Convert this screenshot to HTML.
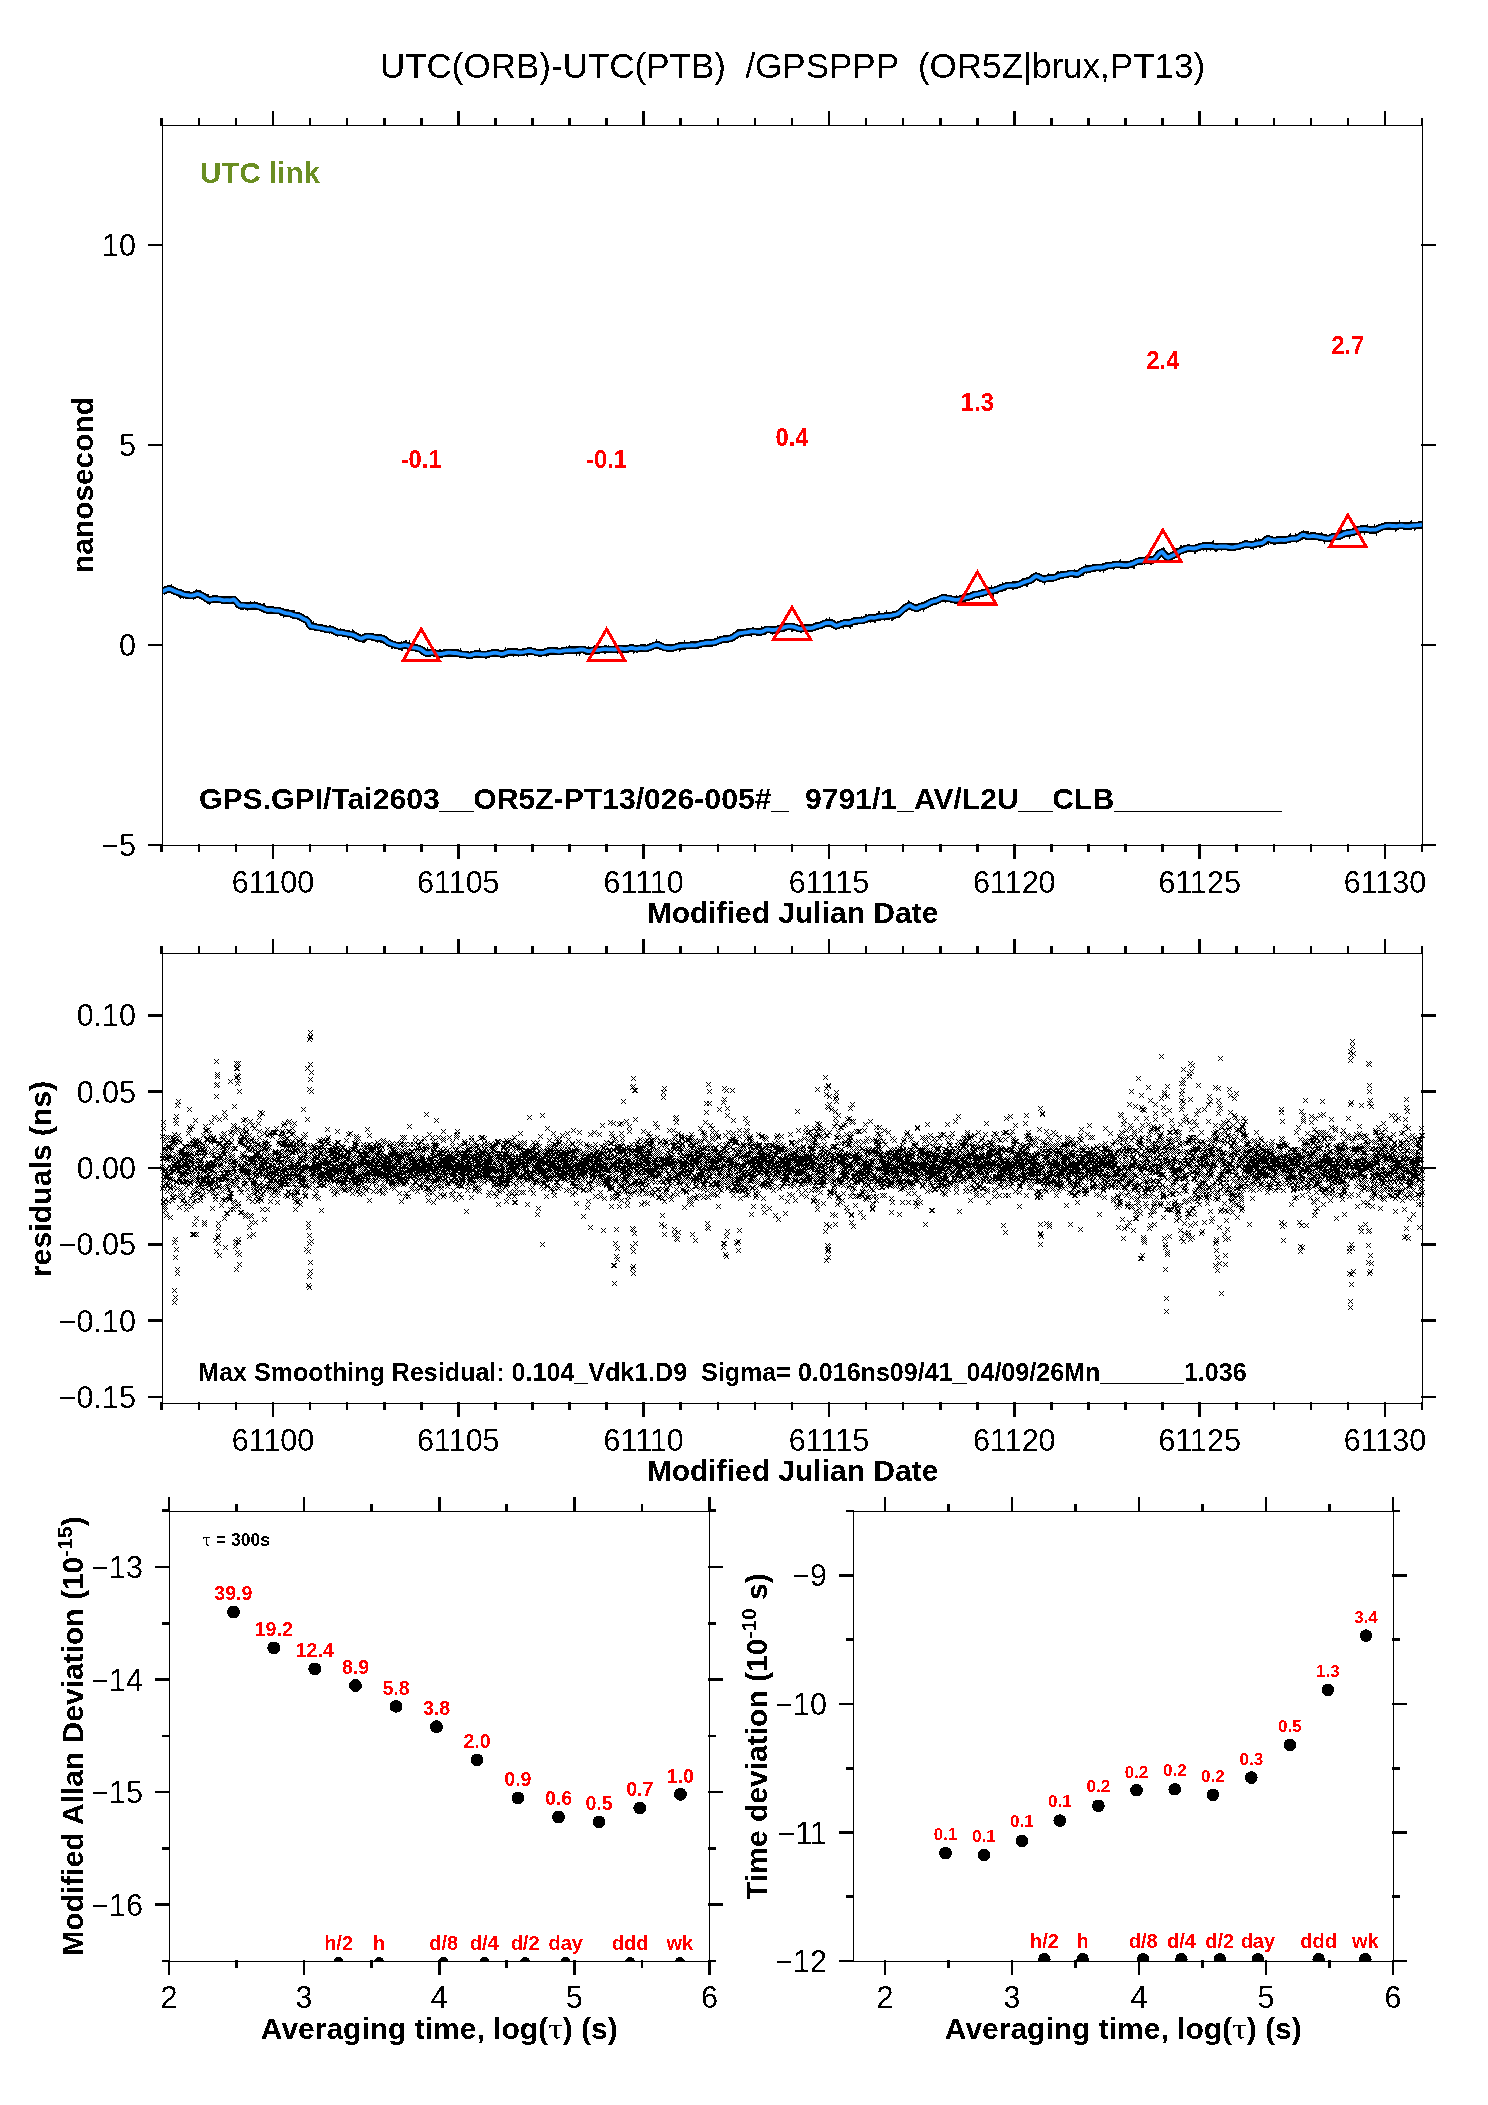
<!DOCTYPE html>
<html><head><meta charset="utf-8"><title>UTC(ORB)-UTC(PTB) GPSPPP</title>
<style>html,body{margin:0;padding:0;background:#fff;}svg{display:block}text{font-family:'Liberation Sans', Arial, Helvetica, sans-serif;}</style></head>
<body><svg width="1488" height="2105" viewBox="0 0 1488 2105">
<rect width="1488" height="2105" fill="#fff"/>
<filter id="crisp" x="0" y="0" width="1488" height="2105" filterUnits="userSpaceOnUse"><feComponentTransfer><feFuncA type="discrete" tableValues="0 1"/></feComponentTransfer></filter>
<g filter="url(#crisp)">
<text x="792.5" y="78.3" font-size="35" text-anchor="middle" style="white-space:pre">UTC(ORB)-UTC(PTB)  /GPSPPP  (OR5Z|brux,PT13)</text>
<clipPath id="c1"><rect x="162.5" y="125.5" width="1260" height="720"/></clipPath>
<g clip-path="url(#c1)"><polyline points="162,591.9 164,590.7 166,589.7 168,589.0 170,588.9 172,589.7 174,590.7 176,591.6 178,592.2 180,592.8 182,593.7 184,594.5 186,594.9 188,595.2 190,595.6 192,595.5 194,595.2 196,594.4 198,593.9 200,594.7 202,595.6 204,596.9 206,598.3 208,599.5 210,599.9 212,599.4 214,599.0 216,599.1 218,599.1 220,599.4 222,600.0 224,600.3 226,600.2 228,600.2 230,600.3 232,599.9 234,599.4 236,601.3 238,603.9 240,605.6 242,605.4 244,605.5 246,605.9 248,606.1 250,606.0 252,605.8 254,605.7 256,605.9 258,606.5 260,607.0 262,607.8 264,608.6 266,609.6 268,610.1 270,609.8 272,609.9 274,610.4 276,610.6 278,610.5 280,610.9 282,611.8 284,612.6 286,613.1 288,613.3 290,613.6 292,614.4 294,615.2 296,615.6 298,615.8 300,616.5 302,617.8 304,619.0 306,619.8 308,621.2 310,625.7 312,626.5 314,626.6 316,627.1 318,627.6 320,627.8 322,628.1 324,628.7 326,629.3 328,629.5 330,629.3 332,629.6 334,630.7 336,631.9 338,632.5 340,632.6 342,632.7 344,633.1 346,633.5 348,633.9 350,634.2 352,634.6 354,635.3 356,636.3 358,637.4 360,638.4 362,638.5 364,637.6 366,636.6 368,636.4 370,636.6 372,636.9 374,637.3 376,638.0 378,638.2 380,638.0 382,638.3 384,639.3 386,640.8 388,642.4 390,643.4 392,644.0 394,644.6 396,645.2 398,645.8 400,646.0 402,645.7 404,645.2 406,645.2 408,645.8 410,646.7 412,647.4 414,647.6 416,647.9 418,648.4 420,649.0 422,650.2 424,651.8 426,653.0 428,653.2 430,652.9 432,652.4 434,652.7 436,653.4 438,653.9 440,654.0 442,653.8 444,653.5 446,653.0 448,652.7 450,652.7 452,652.9 454,653.0 456,653.0 458,653.3 460,653.8 462,654.2 464,654.4 466,654.7 468,655.2 470,655.4 472,654.9 474,654.1 476,653.8 478,653.8 480,654.1 482,654.4 484,654.5 486,654.3 488,654.0 490,653.6 492,653.1 494,652.8 496,652.9 498,653.2 500,653.8 502,654.0 504,653.6 506,652.7 508,652.0 510,651.8 512,651.9 514,651.9 516,652.0 518,652.3 520,652.5 522,652.4 524,652.0 526,651.5 528,651.0 530,650.9 532,651.2 534,651.8 536,652.4 538,652.7 540,652.9 542,652.9 544,652.5 546,651.8 548,651.1 550,650.8 552,650.7 554,650.8 556,651.1 558,651.5 560,651.5 562,651.0 564,650.6 566,650.4 568,650.3 570,650.2 572,650.3 574,650.3 576,650.1 578,649.8 580,649.5 582,649.4 584,649.7 586,650.5 588,651.1 590,651.1 592,650.5 594,650.2 596,650.1 598,650.0 600,649.8 602,649.4 604,649.1 606,649.2 608,649.4 610,649.4 612,649.4 614,649.5 616,649.3 618,648.8 620,648.5 622,648.6 624,649.0 626,649.2 628,648.7 630,648.0 632,647.9 634,648.4 636,648.8 638,648.6 640,648.2 642,648.1 644,648.3 646,648.3 648,647.9 650,647.3 652,646.4 654,645.6 656,644.9 658,644.8 660,645.8 662,646.6 664,647.5 666,647.8 668,648.0 670,648.2 672,648.1 674,647.7 676,647.0 678,646.4 680,646.0 682,645.8 684,645.7 686,645.7 688,645.6 690,645.3 692,645.1 694,645.3 696,645.3 698,644.7 700,644.2 702,643.7 704,643.3 706,642.8 708,642.7 710,642.8 712,642.7 714,642.5 716,641.9 718,641.1 720,640.2 722,639.4 724,639.2 726,639.2 728,638.9 730,638.4 732,637.7 734,636.6 736,635.1 738,633.8 740,633.1 742,633.0 744,632.6 746,632.3 748,632.1 750,631.6 752,631.2 754,631.3 756,631.7 758,631.9 760,632.0 762,631.7 764,630.8 766,629.7 768,629.3 770,629.7 772,630.0 774,630.0 776,629.6 778,629.1 780,628.6 782,628.1 784,627.4 786,626.8 788,626.4 790,626.4 792,626.5 794,626.9 796,627.6 798,628.4 800,628.8 802,628.7 804,628.3 806,628.1 808,628.1 810,628.1 812,627.8 814,627.3 816,626.3 818,625.8 820,625.6 822,624.8 824,623.6 826,623.0 828,622.9 830,622.8 832,623.2 834,624.7 836,625.9 838,625.4 840,624.5 842,623.7 844,622.9 846,622.9 848,623.1 850,622.8 852,622.0 854,621.2 856,620.8 858,620.7 860,620.6 862,620.5 864,620.1 866,619.3 868,618.2 870,617.6 872,617.7 874,617.9 876,617.5 878,616.8 880,616.5 882,616.5 884,616.3 886,616.0 888,615.9 890,615.8 892,615.4 894,614.9 896,614.5 898,613.7 900,612.4 902,610.4 904,608.8 906,607.4 908,606.0 910,605.3 912,606.7 914,607.7 916,608.3 918,608.0 920,606.7 922,606.2 924,605.8 926,605.0 928,603.9 930,602.6 932,601.7 934,601.2 936,600.8 938,600.0 940,598.8 942,597.9 944,597.7 946,598.2 948,598.4 950,598.6 952,599.2 954,599.7 956,599.8 958,599.7 960,599.5 962,598.7 964,597.9 966,597.3 968,597.1 970,596.7 972,595.8 974,594.9 976,594.4 978,594.1 980,593.7 982,593.2 984,592.7 986,592.0 988,591.3 990,590.9 992,590.8 994,590.5 996,589.7 998,588.9 1000,588.3 1002,587.6 1004,586.7 1006,585.9 1008,585.6 1010,585.4 1012,585.3 1014,585.3 1016,585.1 1018,584.6 1020,584.0 1022,583.1 1024,582.2 1026,581.4 1028,581.0 1030,580.5 1032,579.0 1034,577.4 1036,576.0 1038,576.6 1040,577.7 1042,578.6 1044,579.4 1046,578.8 1048,578.1 1050,577.9 1052,578.0 1054,577.9 1056,577.1 1058,576.1 1060,575.3 1062,575.0 1064,574.8 1066,574.5 1068,574.0 1070,573.4 1072,573.1 1074,573.5 1076,574.0 1078,573.8 1080,572.5 1082,570.9 1084,569.8 1086,569.5 1088,569.3 1090,569.0 1092,568.4 1094,567.9 1096,567.6 1098,567.5 1100,567.5 1102,567.5 1104,567.1 1106,566.2 1108,565.7 1110,565.6 1112,565.3 1114,564.8 1116,564.6 1118,564.6 1120,564.7 1122,564.9 1124,565.1 1126,565.1 1128,564.9 1130,564.4 1132,563.8 1134,563.1 1136,562.0 1138,561.1 1140,560.8 1142,560.8 1144,560.5 1146,560.3 1148,560.2 1150,560.2 1152,560.1 1154,559.7 1156,557.6 1158,555.2 1160,553.0 1162,551.9 1164,554.1 1166,556.4 1168,557.8 1170,556.8 1172,555.8 1174,554.9 1176,553.7 1178,552.2 1180,551.1 1182,550.3 1184,549.4 1186,548.7 1188,548.2 1190,548.1 1192,548.4 1194,548.5 1196,548.2 1198,547.5 1200,546.8 1202,546.2 1204,546.0 1206,546.0 1208,546.0 1210,545.9 1212,546.0 1214,546.4 1216,546.8 1218,546.7 1220,546.5 1222,546.5 1224,546.5 1226,546.5 1228,546.8 1230,547.2 1232,547.3 1234,547.1 1236,546.6 1238,546.3 1240,545.9 1242,545.3 1244,544.7 1246,544.2 1248,544.3 1250,544.7 1252,544.8 1254,544.4 1256,543.8 1258,543.3 1260,543.2 1262,543.0 1264,541.8 1266,539.9 1268,538.9 1270,539.4 1272,540.2 1274,540.4 1276,540.3 1278,540.0 1280,539.9 1282,539.9 1284,540.0 1286,539.8 1288,539.3 1290,538.8 1292,538.5 1294,538.5 1296,538.6 1298,537.9 1300,536.3 1302,535.0 1304,534.8 1306,535.7 1308,536.4 1310,536.4 1312,536.0 1314,536.0 1316,536.3 1318,536.7 1320,537.0 1322,537.4 1324,537.9 1326,538.3 1328,538.4 1330,538.1 1332,537.2 1334,536.7 1336,536.5 1338,536.3 1340,535.8 1342,534.9 1344,533.9 1346,533.2 1348,532.9 1350,532.6 1352,532.2 1354,531.8 1356,531.0 1358,529.9 1360,529.1 1362,529.1 1364,529.0 1366,529.0 1368,529.4 1370,529.8 1372,529.7 1374,529.7 1376,529.6 1378,528.8 1380,527.7 1382,527.0 1384,526.5 1386,525.9 1388,525.6 1390,525.7 1392,526.0 1394,526.0 1396,526.1 1398,525.9 1400,525.6 1402,525.5 1404,525.9 1406,526.2 1408,526.2 1410,526.0 1412,525.7 1414,525.5 1416,525.4 1418,525.2 1420,525.0 1422,524.7" fill="none" stroke="#000" stroke-width="7.4" stroke-linejoin="round"/>
<polyline points="162.5,591.5 163.2,589.4 163.9,589.3 164.6,590.5 165.3,589.9 166.0,589.4 166.7,593.8 167.4,591.9 168.1,592.2 168.8,588.9 169.5,587.7 170.2,585.2 170.9,588.2 171.6,584.1 172.3,588.2 173.0,591.9 173.7,594.4 174.4,593.1 175.1,588.8 175.8,592.5 176.5,589.6 177.2,593.9 177.9,591.8 178.6,594.4 179.3,598.0 180.0,595.0 180.7,598.4 181.4,593.7 182.1,592.7 182.8,597.1 183.5,598.4 184.2,593.0 184.9,594.8 185.6,591.1 186.3,594.4 187.0,597.2 187.7,594.9 188.4,593.7 189.1,591.8 189.8,596.4 190.5,597.6 191.2,597.1 191.9,596.2 192.6,592.3 193.3,599.8 194.0,595.1 194.7,594.8 195.4,596.7 196.1,589.1 196.8,594.1 197.5,593.8 198.2,594.9 198.9,597.4 199.6,595.5 200.3,590.1 201.0,594.1 201.7,595.8 202.4,596.0 203.1,592.8 203.8,592.3 204.5,598.2 205.2,598.2 205.9,597.8 206.6,594.0 207.3,603.2 208.0,593.7 208.7,598.6 209.4,604.9 210.1,599.5 210.8,600.4 211.5,596.7 212.2,602.9 212.9,596.1 213.6,599.8 214.3,599.4 215.0,596.4 215.7,601.3 216.4,595.5 217.1,597.4 217.8,599.0 218.5,598.1 219.2,600.4 219.9,601.6 220.6,598.7 221.3,598.3 222.0,598.5 222.7,599.1 223.4,602.2 224.1,599.7 224.8,601.3 225.5,600.1 226.2,598.2 226.9,602.4 227.6,597.6 228.3,600.2 229.0,604.0 229.7,597.6 230.4,600.2 231.1,596.3 231.8,598.8 232.5,596.2 233.2,598.8 233.9,598.2 234.6,599.8 235.3,604.1 236.0,601.5 236.7,603.2 237.4,602.3 238.1,602.7 238.8,602.0 239.5,600.2 240.2,605.5 240.9,609.7 241.6,606.7 242.3,604.1 243.0,609.6 243.7,604.4 244.4,603.9 245.1,602.5 245.8,603.3 246.5,605.2 247.2,611.0 247.9,605.5 248.6,603.5 249.3,604.6 250.0,605.5 250.7,601.7 251.4,606.3 252.1,607.6 252.8,606.6 253.5,607.3 254.2,602.5 254.9,601.5 255.6,609.0 256.3,608.6 257.0,602.2 257.7,606.8 258.4,606.5 259.1,608.0 259.8,607.4 260.5,605.8 261.2,607.8 261.9,607.9 262.6,607.7 263.3,603.5 264.0,602.9 264.7,606.7 265.4,605.0 266.1,610.0 266.8,611.5 267.5,610.5 268.2,609.1 268.9,610.2 269.6,612.8 270.3,608.0 271.0,612.1 271.7,611.6 272.4,610.6 273.1,613.7 273.8,608.4 274.5,612.7 275.2,608.1 275.9,608.6 276.6,607.9 277.3,611.7 278.0,608.2 278.7,610.7 279.4,607.9 280.1,613.5 280.8,615.6 281.5,611.9 282.2,615.8 282.9,613.3 283.6,617.7 284.3,612.8 285.0,608.8 285.7,616.6 286.4,612.8 287.1,610.6 287.8,611.6 288.5,609.2 289.2,613.0 289.9,610.9 290.6,617.4 291.3,615.6 292.0,610.1 292.7,610.7 293.4,613.3 294.1,610.2 294.8,615.0 295.5,615.3 296.2,613.6 296.9,614.3 297.6,616.9 298.3,619.3 299.0,619.7 299.7,616.3 300.4,618.6 301.1,615.1 301.8,618.4 302.5,615.4 303.2,620.1 303.9,615.6 304.6,616.6 305.3,619.3 306.0,621.0 306.7,616.3 307.4,619.1 308.1,621.3 308.8,622.5 309.5,621.4 310.2,625.3 310.9,625.2 311.6,629.7 312.3,627.8 313.0,623.2 313.7,621.1 314.4,626.9 315.1,629.7 315.8,627.4 316.5,629.4 317.2,626.1 317.9,624.1 318.6,629.5 319.3,627.9 320.0,629.5 320.7,624.4 321.4,628.4 322.1,626.4 322.8,630.2 323.5,626.9 324.2,627.1 324.9,627.4 325.6,632.2 326.3,629.3 327.0,627.5 327.7,626.9 328.4,626.8 329.1,633.1 329.8,624.8 330.5,627.2 331.2,631.0 331.9,632.5 332.6,629.3 333.3,632.0 334.0,632.4 334.7,633.3 335.4,631.4 336.1,635.8 336.8,632.6 337.5,636.1 338.2,629.7 338.9,634.9 339.6,629.5 340.3,628.9 341.0,633.9 341.7,630.7 342.4,633.9 343.1,630.2 343.8,637.0 344.5,633.2 345.2,630.5 345.9,633.9 346.6,635.9 347.3,631.9 348.0,635.2 348.7,639.2 349.4,636.3 350.1,634.2 350.8,633.0 351.5,636.0 352.2,630.9 352.9,629.3 353.6,633.5 354.3,632.7 355.0,640.1 355.7,636.4 356.4,633.9 357.1,633.9 357.8,638.4 358.5,635.5 359.2,636.5 359.9,638.0 360.6,638.8 361.3,638.8 362.0,638.9 362.7,641.8 363.4,642.5 364.1,633.8 364.8,643.0 365.5,637.6 366.2,640.1 366.9,634.9 367.6,637.5 368.3,637.1 369.0,636.9 369.7,638.8 370.4,638.4 371.1,634.4 371.8,636.7 372.5,638.9 373.2,639.0 373.9,636.6 374.6,636.9 375.3,637.4 376.0,635.3 376.7,635.0 377.4,642.2 378.1,637.4 378.8,638.6 379.5,636.4 380.2,641.4 380.9,642.6 381.6,637.8 382.3,639.7 383.0,636.9 383.7,643.5 384.4,641.8 385.1,637.9 385.8,643.6 386.5,641.9 387.2,642.6 387.9,643.0 388.6,640.9 389.3,641.6 390.0,644.9 390.7,643.5 391.4,641.5 392.1,649.1 392.8,643.7 393.5,643.1 394.2,642.9 394.9,646.6 395.6,647.5 396.3,645.9 397.0,647.7 397.7,642.0 398.4,645.0 399.1,644.8 399.8,646.1 400.5,647.3 401.2,640.9 401.9,651.2 402.6,643.6 403.3,646.5 404.0,647.5 404.7,647.5 405.4,646.0 406.1,639.7 406.8,642.7 407.5,647.6 408.2,643.6 408.9,643.5 409.6,640.8 410.3,649.8 411.0,648.3 411.7,645.0 412.4,647.1 413.1,647.3 413.8,644.8 414.5,647.0 415.2,648.4 415.9,649.3 416.6,651.2 417.3,648.3 418.0,647.2 418.7,649.5 419.4,647.2 420.1,645.8 420.8,652.1 421.5,648.7 422.2,650.3 422.9,652.2 423.6,648.3 424.3,653.3 425.0,653.2 425.7,652.3 426.4,654.0 427.1,651.2 427.8,647.7 428.5,652.6 429.2,650.9 429.9,655.2 430.6,653.6 431.3,651.4 432.0,652.7 432.7,655.9 433.4,655.4 434.1,653.6 434.8,653.9 435.5,652.4 436.2,653.0 436.9,655.0 437.6,653.4 438.3,654.7 439.0,651.2 439.7,649.8 440.4,649.8 441.1,652.9 441.8,657.2 442.5,656.8 443.2,651.3 443.9,649.8 444.6,655.5 445.3,654.5 446.0,649.8 446.7,655.7 447.4,653.4 448.1,656.1 448.8,653.6 449.5,654.9 450.2,653.5 450.9,650.4 451.6,652.3 452.3,651.2 453.0,655.1 453.7,650.5 454.4,649.2 455.1,654.7 455.8,655.9 456.5,656.7 457.2,655.9 457.9,649.5 458.6,651.6 459.3,652.1 460.0,653.6 460.7,648.5 461.4,654.0 462.1,654.8 462.8,651.9 463.5,654.6 464.2,657.4 464.9,654.6 465.6,657.3 466.3,657.3 467.0,655.9 467.7,656.0 468.4,654.3 469.1,658.4 469.8,654.2 470.5,653.7 471.2,657.0 471.9,653.3 472.6,655.9 473.3,657.3 474.0,654.6 474.7,654.4 475.4,656.3 476.1,655.8 476.8,650.0 477.5,650.6 478.2,657.2 478.9,654.9 479.6,648.8 480.3,650.7 481.0,654.2 481.7,651.8 482.4,655.6 483.1,654.6 483.8,655.7 484.5,651.6 485.2,656.0 485.9,659.3 486.6,652.4 487.3,657.5 488.0,656.6 488.7,655.6 489.4,653.7 490.1,650.8 490.8,651.4 491.5,655.3 492.2,655.7 492.9,656.2 493.6,655.4 494.3,655.2 495.0,651.8 495.7,649.9 496.4,653.4 497.1,654.3 497.8,653.4 498.5,649.5 499.2,652.2 499.9,650.0 500.6,654.2 501.3,651.3 502.0,653.6 502.7,654.8 503.4,654.2 504.1,657.1 504.8,650.7 505.5,647.7 506.2,655.2 506.9,656.1 507.6,656.0 508.3,652.8 509.0,653.4 509.7,652.3 510.4,648.7 511.1,650.5 511.8,653.2 512.5,650.5 513.2,656.7 513.9,648.1 514.6,650.9 515.3,654.8 516.0,650.5 516.7,649.3 517.4,648.9 518.1,650.5 518.8,656.2 519.5,653.5 520.2,653.9 520.9,651.3 521.6,654.6 522.3,652.7 523.0,650.0 523.7,651.1 524.4,652.6 525.1,654.8 525.8,651.6 526.5,652.8 527.2,656.4 527.9,649.2 528.6,648.0 529.3,653.5 530.0,652.1 530.7,650.7 531.4,651.8 532.1,650.4 532.8,652.7 533.5,650.8 534.2,653.8 534.9,649.1 535.6,650.2 536.3,652.7 537.0,651.4 537.7,654.4 538.4,652.7 539.1,651.5 539.8,653.5 540.5,651.7 541.2,649.1 541.9,650.2 542.6,651.0 543.3,651.7 544.0,652.9 544.7,654.8 545.4,653.7 546.1,656.5 546.8,655.0 547.5,651.1 548.2,655.5 548.9,654.1 549.6,649.9 550.3,651.7 551.0,653.6 551.7,651.4 552.4,653.4 553.1,651.8 553.8,652.6 554.5,650.1 555.2,652.0 555.9,650.2 556.6,653.0 557.3,647.2 558.0,652.4 558.7,654.7 559.4,653.0 560.1,651.5 560.8,652.9 561.5,649.3 562.2,649.1 562.9,650.2 563.6,650.5 564.3,653.2 565.0,648.4 565.7,653.1 566.4,646.6 567.1,648.5 567.8,650.3 568.5,653.3 569.2,648.8 569.9,645.0 570.6,651.4 571.3,650.3 572.0,647.7 572.7,647.8 573.4,648.7 574.1,650.7 574.8,652.1 575.5,646.6 576.2,655.7 576.9,650.1 577.6,649.1 578.3,651.7 579.0,650.1 579.7,655.1 580.4,652.4 581.1,648.7 581.8,648.6 582.5,648.3 583.2,648.8 583.9,651.4 584.6,648.3 585.3,654.2 586.0,650.2 586.7,650.3 587.4,653.3 588.1,646.2 588.8,648.9 589.5,652.7 590.2,651.3 590.9,651.1 591.6,651.9 592.3,649.2 593.0,650.1 593.7,647.0 594.4,645.6 595.1,653.4 595.8,647.9 596.5,648.4 597.2,653.6 597.9,652.8 598.6,648.8 599.3,648.7 600.0,649.8 600.7,647.5 601.4,651.1 602.1,650.0 602.8,649.8 603.5,651.3 604.2,651.1 604.9,653.8 605.6,653.1 606.3,645.0 607.0,651.6 607.7,646.6 608.4,645.9 609.1,651.3 609.8,647.8 610.5,648.7 611.2,652.2 611.9,647.9 612.6,647.3 613.3,650.4 614.0,652.6 614.7,650.9 615.4,645.6 616.1,647.8 616.8,648.9 617.5,654.0 618.2,651.2 618.9,650.9 619.6,651.7 620.3,647.8 621.0,649.8 621.7,649.9 622.4,646.3 623.1,648.8 623.8,650.4 624.5,646.4 625.2,651.2 625.9,651.1 626.6,651.8 627.3,647.1 628.0,649.2 628.7,652.3 629.4,650.4 630.1,646.2 630.8,648.6 631.5,651.6 632.2,647.8 632.9,649.0 633.6,653.7 634.3,648.4 635.0,648.3 635.7,646.2 636.4,647.2 637.1,652.6 637.8,648.4 638.5,645.7 639.2,646.2 639.9,648.4 640.6,650.2 641.3,646.4 642.0,650.0 642.7,647.0 643.4,649.1 644.1,649.6 644.8,649.8 645.5,647.2 646.2,647.9 646.9,649.5 647.6,644.9 648.3,648.4 649.0,649.1 649.7,650.2 650.4,647.3 651.1,646.6 651.8,647.1 652.5,644.6 653.2,645.6 653.9,646.9 654.6,646.2 655.3,642.7 656.0,644.2 656.7,639.6 657.4,646.8 658.1,643.5 658.8,645.5 659.5,642.6 660.2,645.5 660.9,647.1 661.6,648.7 662.3,643.1 663.0,648.9 663.7,646.7 664.4,645.5 665.1,648.8 665.8,646.9 666.5,647.0 667.2,646.1 667.9,648.5 668.6,648.1 669.3,647.6 670.0,645.8 670.7,646.9 671.4,649.1 672.1,651.3 672.8,647.9 673.5,651.4 674.2,647.7 674.9,644.8 675.6,648.8 676.3,644.6 677.0,647.8 677.7,649.3 678.4,645.6 679.1,646.0 679.8,651.6 680.5,646.5 681.2,646.5 681.9,647.7 682.6,645.5 683.3,645.5 684.0,646.6 684.7,640.2 685.4,649.2 686.1,643.0 686.8,643.0 687.5,647.0 688.2,645.7 688.9,642.4 689.6,645.9 690.3,642.4 691.0,643.5 691.7,641.4 692.4,643.0 693.1,646.1 693.8,645.5 694.5,646.0 695.2,647.5 695.9,645.1 696.6,643.5 697.3,644.3 698.0,648.9 698.7,644.7 699.4,645.2 700.1,644.0 700.8,644.7 701.5,645.0 702.2,643.7 702.9,643.2 703.6,641.5 704.3,641.2 705.0,644.1 705.7,644.8 706.4,645.1 707.1,642.9 707.8,640.7 708.5,644.3 709.2,644.2 709.9,639.0 710.6,644.7 711.3,644.2 712.0,646.8 712.7,639.8 713.4,639.4 714.1,644.4 714.8,637.9 715.5,640.3 716.2,639.2 716.9,639.2 717.6,636.7 718.3,640.5 719.0,643.3 719.7,641.6 720.4,641.3 721.1,639.0 721.8,643.3 722.5,640.7 723.2,641.9 723.9,635.4 724.6,640.0 725.3,636.3 726.0,640.0 726.7,639.6 727.4,636.2 728.1,639.4 728.8,641.7 729.5,639.9 730.2,639.9 730.9,636.1 731.6,636.3 732.3,635.0 733.0,637.7 733.7,640.0 734.4,637.7 735.1,636.1 735.8,632.8 736.5,636.2 737.2,634.0 737.9,629.4 738.6,629.4 739.3,632.7 740.0,631.1 740.7,637.2 741.4,633.1 742.1,630.4 742.8,631.7 743.5,636.7 744.2,630.3 744.9,634.4 745.6,633.5 746.3,636.0 747.0,633.6 747.7,631.2 748.4,633.4 749.1,632.1 749.8,634.2 750.5,631.5 751.2,636.4 751.9,631.1 752.6,632.3 753.3,629.7 754.0,631.6 754.7,631.5 755.4,631.9 756.1,633.9 756.8,630.4 757.5,629.7 758.2,634.7 758.9,631.3 759.6,630.3 760.3,634.9 761.0,633.9 761.7,626.3 762.4,630.8 763.1,633.4 763.8,633.2 764.5,629.5 765.2,634.3 765.9,628.1 766.6,629.2 767.3,629.9 768.0,629.5 768.7,631.4 769.4,632.1 770.1,629.6 770.8,633.3 771.5,628.2 772.2,629.5 772.9,634.4 773.6,630.3 774.3,632.7 775.0,628.9 775.7,629.1 776.4,629.4 777.1,629.9 777.8,628.5 778.5,629.2 779.2,630.6 779.9,631.8 780.6,628.9 781.3,630.1 782.0,630.5 782.7,625.4 783.4,623.9 784.1,631.6 784.8,630.7 785.5,627.3 786.2,627.8 786.9,624.4 787.6,623.2 788.3,627.3 789.0,622.8 789.7,628.8 790.4,624.8 791.1,627.2 791.8,631.4 792.5,631.3 793.2,626.1 793.9,629.5 794.6,624.5 795.3,625.8 796.0,628.4 796.7,631.2 797.4,626.6 798.1,629.7 798.8,628.8 799.5,625.5 800.2,628.5 800.9,632.6 801.6,628.6 802.3,630.0 803.0,630.7 803.7,626.7 804.4,631.4 805.1,632.0 805.8,632.2 806.5,631.4 807.2,627.0 807.9,626.7 808.6,626.2 809.3,625.9 810.0,626.2 810.7,630.6 811.4,631.7 812.1,626.4 812.8,629.8 813.5,624.5 814.2,626.6 814.9,624.7 815.6,622.7 816.3,626.6 817.0,626.4 817.7,625.0 818.4,624.6 819.1,623.3 819.8,625.4 820.5,624.1 821.2,625.9 821.9,622.1 822.6,625.3 823.3,625.6 824.0,627.0 824.7,626.2 825.4,623.8 826.1,621.4 826.8,618.4 827.5,622.9 828.2,626.4 828.9,627.0 829.6,617.3 830.3,620.9 831.0,622.0 831.7,620.4 832.4,623.6 833.1,623.7 833.8,622.9 834.5,624.6 835.2,621.1 835.9,623.1 836.6,623.6 837.3,627.9 838.0,621.4 838.7,624.8 839.4,626.9 840.1,624.5 840.8,626.4 841.5,622.5 842.2,624.9 842.9,625.8 843.6,628.7 844.3,624.8 845.0,626.5 845.7,622.9 846.4,623.1 847.1,626.9 847.8,624.5 848.5,626.7 849.2,624.8 849.9,628.2 850.6,628.3 851.3,620.4 852.0,626.9 852.7,623.0 853.4,622.8 854.1,621.1 854.8,623.0 855.5,618.3 856.2,619.1 856.9,619.0 857.6,621.6 858.3,623.1 859.0,622.6 859.7,621.6 860.4,619.2 861.1,616.3 861.8,621.6 862.5,621.0 863.2,621.4 863.9,623.9 864.6,619.7 865.3,619.3 866.0,614.0 866.7,620.6 867.4,618.7 868.1,616.6 868.8,619.1 869.5,615.4 870.2,616.4 870.9,622.6 871.6,619.6 872.3,620.1 873.0,619.7 873.7,619.5 874.4,618.5 875.1,623.3 875.8,617.6 876.5,619.4 877.2,616.8 877.9,616.2 878.6,611.3 879.3,612.0 880.0,620.5 880.7,620.3 881.4,615.5 882.1,616.5 882.8,618.0 883.5,613.9 884.2,620.8 884.9,613.7 885.6,614.3 886.3,610.5 887.0,619.8 887.7,616.1 888.4,620.0 889.1,613.4 889.8,616.7 890.5,616.0 891.2,616.2 891.9,620.7 892.6,620.8 893.3,618.7 894.0,614.1 894.7,617.2 895.4,618.1 896.1,616.0 896.8,615.9 897.5,615.4 898.2,611.6 898.9,614.1 899.6,617.0 900.3,610.1 901.0,612.1 901.7,613.3 902.4,607.1 903.1,609.6 903.8,605.2 904.5,607.3 905.2,604.9 905.9,605.6 906.6,606.2 907.3,606.2 908.0,605.9 908.7,600.5 909.4,609.7 910.1,604.8 910.8,602.8 911.5,604.4 912.2,607.3 912.9,604.4 913.6,606.2 914.3,606.5 915.0,609.2 915.7,606.2 916.4,609.4 917.1,609.1 917.8,607.8 918.5,611.1 919.2,607.6 919.9,604.2 920.6,607.5 921.3,606.8 922.0,606.2 922.7,606.7 923.4,611.5 924.1,606.5 924.8,606.8 925.5,604.8 926.2,608.4 926.9,604.7 927.6,602.4 928.3,600.9 929.0,604.9 929.7,605.0 930.4,598.7 931.1,600.5 931.8,603.6 932.5,604.3 933.2,598.2 933.9,600.4 934.6,603.3 935.3,599.7 936.0,599.8 936.7,599.4 937.4,597.2 938.1,600.3 938.8,600.6 939.5,595.9 940.2,599.2 940.9,601.4 941.6,598.8 942.3,600.4 943.0,596.5 943.7,601.2 944.4,595.8 945.1,602.6 945.8,596.9 946.5,596.4 947.2,596.1 947.9,597.3 948.6,597.2 949.3,596.8 950.0,597.8 950.7,600.3 951.4,601.1 952.1,598.2 952.8,602.3 953.5,596.9 954.2,597.0 954.9,596.9 955.6,601.2 956.3,595.9 957.0,596.3 957.7,602.9 958.4,604.0 959.1,603.0 959.8,595.8 960.5,599.5 961.2,601.3 961.9,599.2 962.6,594.6 963.3,597.5 964.0,593.8 964.7,594.7 965.4,603.0 966.1,599.1 966.8,593.6 967.5,593.4 968.2,598.2 968.9,595.4 969.6,598.3 970.3,595.1 971.0,595.9 971.7,596.7 972.4,593.3 973.1,590.7 973.8,592.2 974.5,593.1 975.2,594.2 975.9,594.4 976.6,594.2 977.3,595.6 978.0,591.9 978.7,597.5 979.4,598.9 980.1,594.7 980.8,594.1 981.5,596.5 982.2,594.9 982.9,593.6 983.6,592.5 984.3,590.9 985.0,589.6 985.7,593.9 986.4,595.0 987.1,589.1 987.8,591.3 988.5,591.8 989.2,590.0 989.9,589.1 990.6,589.9 991.3,585.9 992.0,590.7 992.7,590.0 993.4,595.9 994.1,592.8 994.8,589.4 995.5,590.0 996.2,594.0 996.9,593.5 997.6,589.6 998.3,588.6 999.0,585.1 999.7,587.7 1000.4,587.8 1001.1,586.2 1001.8,592.1 1002.5,582.9 1003.2,586.9 1003.9,587.9 1004.6,587.7 1005.3,590.5 1006.0,582.6 1006.7,584.0 1007.4,586.0 1008.1,585.9 1008.8,584.5 1009.5,583.5 1010.2,588.0 1010.9,582.7 1011.6,583.8 1012.3,588.9 1013.0,589.6 1013.7,587.4 1014.4,583.1 1015.1,583.1 1015.8,582.9 1016.5,582.2 1017.2,583.8 1017.9,587.9 1018.6,585.1 1019.3,582.4 1020.0,582.2 1020.7,580.9 1021.4,586.6 1022.1,578.2 1022.8,583.6 1023.5,579.0 1024.2,579.7 1024.9,578.3 1025.6,584.1 1026.3,581.3 1027.0,586.8 1027.7,578.5 1028.4,578.2 1029.1,582.2 1029.8,582.0 1030.5,579.7 1031.2,574.8 1031.9,583.0 1032.6,580.3 1033.3,579.3 1034.0,576.2 1034.7,578.8 1035.4,575.3 1036.1,576.3 1036.8,575.5 1037.5,579.3 1038.2,575.2 1038.9,575.8 1039.6,579.8 1040.3,578.0 1041.0,577.7 1041.7,577.5 1042.4,580.8 1043.1,577.1 1043.8,580.1 1044.5,584.3 1045.2,580.0 1045.9,576.9 1046.6,575.6 1047.3,578.7 1048.0,575.0 1048.7,573.9 1049.4,575.9 1050.1,575.0 1050.8,580.0 1051.5,574.2 1052.2,581.8 1052.9,576.0 1053.6,578.1 1054.3,579.4 1055.0,578.1 1055.7,579.1 1056.4,574.5 1057.1,571.3 1057.8,575.8 1058.5,571.7 1059.2,574.2 1059.9,577.8 1060.6,574.6 1061.3,573.5 1062.0,572.1 1062.7,574.1 1063.4,574.3 1064.1,570.7 1064.8,575.3 1065.5,571.7 1066.2,574.9 1066.9,573.1 1067.6,576.5 1068.3,576.0 1069.0,573.7 1069.7,573.2 1070.4,574.3 1071.1,576.6 1071.8,575.7 1072.5,573.4 1073.2,573.9 1073.9,577.2 1074.6,569.3 1075.3,574.9 1076.0,571.5 1076.7,577.3 1077.4,572.5 1078.1,573.4 1078.8,570.8 1079.5,573.1 1080.2,574.6 1080.9,576.3 1081.6,568.4 1082.3,569.9 1083.0,576.1 1083.7,572.6 1084.4,569.8 1085.1,571.0 1085.8,564.1 1086.5,573.5 1087.2,569.8 1087.9,565.8 1088.6,572.2 1089.3,567.6 1090.0,566.5 1090.7,570.2 1091.4,569.7 1092.1,567.4 1092.8,568.2 1093.5,564.8 1094.2,564.4 1094.9,570.1 1095.6,571.0 1096.3,568.7 1097.0,568.5 1097.7,566.5 1098.4,567.2 1099.1,565.1 1099.8,571.9 1100.5,566.1 1101.2,568.5 1101.9,567.5 1102.6,564.0 1103.3,572.2 1104.0,566.2 1104.7,565.0 1105.4,567.0 1106.1,564.1 1106.8,566.2 1107.5,563.5 1108.2,567.2 1108.9,565.8 1109.6,562.2 1110.3,568.2 1111.0,566.0 1111.7,562.7 1112.4,566.3 1113.1,566.3 1113.8,569.7 1114.5,562.7 1115.2,566.9 1115.9,564.4 1116.6,566.1 1117.3,563.9 1118.0,564.4 1118.7,565.8 1119.4,561.7 1120.1,559.4 1120.8,564.7 1121.5,563.7 1122.2,565.1 1122.9,566.6 1123.6,564.5 1124.3,568.1 1125.0,565.0 1125.7,565.5 1126.4,567.3 1127.1,566.6 1127.8,564.8 1128.5,565.3 1129.2,562.9 1129.9,563.1 1130.6,564.7 1131.3,566.3 1132.0,562.9 1132.7,565.9 1133.4,568.4 1134.1,568.7 1134.8,563.1 1135.5,565.3 1136.2,563.8 1136.9,563.9 1137.6,563.8 1138.3,562.7 1139.0,563.3 1139.7,561.5 1140.4,560.3 1141.1,561.6 1141.8,562.2 1142.5,564.0 1143.2,561.8 1143.9,562.6 1144.6,564.2 1145.3,558.2 1146.0,559.8 1146.7,561.8 1147.4,560.4 1148.1,557.8 1148.8,562.8 1149.5,560.1 1150.2,557.8 1150.9,565.1 1151.6,557.1 1152.3,560.2 1153.0,558.5 1153.7,560.3 1154.4,561.3 1155.1,557.2 1155.8,558.2 1156.5,557.4 1157.2,554.4 1157.9,559.0 1158.6,555.6 1159.3,553.7 1160.0,552.0 1160.7,552.1 1161.4,553.0 1162.1,551.1 1162.8,555.5 1163.5,547.5 1164.2,548.6 1164.9,554.1 1165.6,550.9 1166.3,556.2 1167.0,555.2 1167.7,558.8 1168.4,558.9 1169.1,560.9 1169.8,559.6 1170.5,560.1 1171.2,557.9 1171.9,558.9 1172.6,557.1 1173.3,554.1 1174.0,552.1 1174.7,551.9 1175.4,555.7 1176.1,548.4 1176.8,554.0 1177.5,551.2 1178.2,554.4 1178.9,552.6 1179.6,549.8 1180.3,551.3 1181.0,545.4 1181.7,551.4 1182.4,551.6 1183.1,545.5 1183.8,552.0 1184.5,549.2 1185.2,549.7 1185.9,545.5 1186.6,550.3 1187.3,550.1 1188.0,548.4 1188.7,545.8 1189.4,550.2 1190.1,551.4 1190.8,549.3 1191.5,550.9 1192.2,547.0 1192.9,548.9 1193.6,549.6 1194.3,549.0 1195.0,553.9 1195.7,549.5 1196.4,546.9 1197.1,550.2 1197.8,545.2 1198.5,548.6 1199.2,549.3 1199.9,545.9 1200.6,546.1 1201.3,544.4 1202.0,546.9 1202.7,544.7 1203.4,550.7 1204.1,547.9 1204.8,545.7 1205.5,542.7 1206.2,551.4 1206.9,549.5 1207.6,547.4 1208.3,546.8 1209.0,546.7 1209.7,545.0 1210.4,550.8 1211.1,546.7 1211.8,542.6 1212.5,544.6 1213.2,540.6 1213.9,548.2 1214.6,548.6 1215.3,551.3 1216.0,552.2 1216.7,545.1 1217.4,548.1 1218.1,549.5 1218.8,548.9 1219.5,545.6 1220.2,548.8 1220.9,548.0 1221.6,550.2 1222.3,546.7 1223.0,546.1 1223.7,545.4 1224.4,545.7 1225.1,544.8 1225.8,545.9 1226.5,548.0 1227.2,548.0 1227.9,550.3 1228.6,549.8 1229.3,548.7 1230.0,544.4 1230.7,548.8 1231.4,550.3 1232.1,544.2 1232.8,544.6 1233.5,545.0 1234.2,544.7 1234.9,546.5 1235.6,544.7 1236.3,547.8 1237.0,543.7 1237.7,546.3 1238.4,545.2 1239.1,543.9 1239.8,548.8 1240.5,546.2 1241.2,547.2 1241.9,544.8 1242.6,547.2 1243.3,546.7 1244.0,544.6 1244.7,540.3 1245.4,546.7 1246.1,546.2 1246.8,544.9 1247.5,545.0 1248.2,544.7 1248.9,545.0 1249.6,542.1 1250.3,544.6 1251.0,545.6 1251.7,543.3 1252.4,542.5 1253.1,549.5 1253.8,546.2 1254.5,543.8 1255.2,543.1 1255.9,538.5 1256.6,540.4 1257.3,543.2 1258.0,546.8 1258.7,538.3 1259.4,541.7 1260.1,548.2 1260.8,545.0 1261.5,544.3 1262.2,546.2 1262.9,542.6 1263.6,542.1 1264.3,543.9 1265.0,543.6 1265.7,538.2 1266.4,544.0 1267.1,535.4 1267.8,537.7 1268.5,544.4 1269.2,538.0 1269.9,541.0 1270.6,537.1 1271.3,539.1 1272.0,538.4 1272.7,539.4 1273.4,542.1 1274.1,544.9 1274.8,542.8 1275.5,544.4 1276.2,539.2 1276.9,544.1 1277.6,541.7 1278.3,543.7 1279.0,539.1 1279.7,539.5 1280.4,543.4 1281.1,541.5 1281.8,540.3 1282.5,538.3 1283.2,539.8 1283.9,541.3 1284.6,541.9 1285.3,538.6 1286.0,539.1 1286.7,540.9 1287.4,536.9 1288.1,541.8 1288.8,539.3 1289.5,538.8 1290.2,533.4 1290.9,534.8 1291.6,536.1 1292.3,537.1 1293.0,535.7 1293.7,539.4 1294.4,538.8 1295.1,537.9 1295.8,533.5 1296.5,542.1 1297.2,537.7 1297.9,539.6 1298.6,536.2 1299.3,537.3 1300.0,538.5 1300.7,536.8 1301.4,538.1 1302.1,534.8 1302.8,540.0 1303.5,530.2 1304.2,533.5 1304.9,537.4 1305.6,534.7 1306.3,534.5 1307.0,531.4 1307.7,539.1 1308.4,531.6 1309.1,537.7 1309.8,536.9 1310.5,538.6 1311.2,539.9 1311.9,534.4 1312.6,534.0 1313.3,535.2 1314.0,531.7 1314.7,538.1 1315.4,535.1 1316.1,536.6 1316.8,533.5 1317.5,536.5 1318.2,535.0 1318.9,536.5 1319.6,534.0 1320.3,539.5 1321.0,535.4 1321.7,531.8 1322.4,538.9 1323.1,536.7 1323.8,535.4 1324.5,543.4 1325.2,537.8 1325.9,534.7 1326.6,536.7 1327.3,539.2 1328.0,537.7 1328.7,541.4 1329.4,540.8 1330.1,536.1 1330.8,537.9 1331.5,539.1 1332.2,536.2 1332.9,535.8 1333.6,539.0 1334.3,537.8 1335.0,533.0 1335.7,535.1 1336.4,535.4 1337.1,536.0 1337.8,534.5 1338.5,539.6 1339.2,533.6 1339.9,533.1 1340.6,536.2 1341.3,529.9 1342.0,532.4 1342.7,536.2 1343.4,531.0 1344.1,531.9 1344.8,536.4 1345.5,534.6 1346.2,533.4 1346.9,533.7 1347.6,531.3 1348.3,533.6 1349.0,532.2 1349.7,538.2 1350.4,533.9 1351.1,531.6 1351.8,532.2 1352.5,532.3 1353.2,528.6 1353.9,529.8 1354.6,535.5 1355.3,527.9 1356.0,529.7 1356.7,533.4 1357.4,534.2 1358.1,527.5 1358.8,533.4 1359.5,528.5 1360.2,533.3 1360.9,530.3 1361.6,528.3 1362.3,530.9 1363.0,530.4 1363.7,527.1 1364.4,534.3 1365.1,528.1 1365.8,531.9 1366.5,527.8 1367.2,524.6 1367.9,526.5 1368.6,529.2 1369.3,531.2 1370.0,534.0 1370.7,529.9 1371.4,529.0 1372.1,526.6 1372.8,529.5 1373.5,530.4 1374.2,524.2 1374.9,532.9 1375.6,532.4 1376.3,535.1 1377.0,527.0 1377.7,529.2 1378.4,528.8 1379.1,525.1 1379.8,525.9 1380.5,525.2 1381.2,528.7 1381.9,528.2 1382.6,530.3 1383.3,525.7 1384.0,523.0 1384.7,527.4 1385.4,527.1 1386.1,527.6 1386.8,528.9 1387.5,524.2 1388.2,527.6 1388.9,523.1 1389.6,526.0 1390.3,527.4 1391.0,525.5 1391.7,526.4 1392.4,522.4 1393.1,524.3 1393.8,526.3 1394.5,523.0 1395.2,523.9 1395.9,531.6 1396.6,526.6 1397.3,523.9 1398.0,523.3 1398.7,529.3 1399.4,520.3 1400.1,524.6 1400.8,526.9 1401.5,523.9 1402.2,526.6 1402.9,522.7 1403.6,525.4 1404.3,525.7 1405.0,525.7 1405.7,526.1 1406.4,525.9 1407.1,528.7 1407.8,525.2 1408.5,524.4 1409.2,525.1 1409.9,525.0 1410.6,521.8 1411.3,520.8 1412.0,522.1 1412.7,526.1 1413.4,523.6 1414.1,524.2 1414.8,531.0 1415.5,527.9 1416.2,524.5 1416.9,523.4 1417.6,528.4 1418.3,522.9 1419.0,527.9 1419.7,526.2 1420.4,528.1 1421.1,522.7 1421.8,526.7" fill="none" stroke="#000" stroke-width="1.1" stroke-linejoin="round"/>
<polyline points="162,591.9 164,590.7 166,589.7 168,589.0 170,588.9 172,589.7 174,590.7 176,591.6 178,592.2 180,592.8 182,593.7 184,594.5 186,594.9 188,595.2 190,595.6 192,595.5 194,595.2 196,594.4 198,593.9 200,594.7 202,595.6 204,596.9 206,598.3 208,599.5 210,599.9 212,599.4 214,599.0 216,599.1 218,599.1 220,599.4 222,600.0 224,600.3 226,600.2 228,600.2 230,600.3 232,599.9 234,599.4 236,601.3 238,603.9 240,605.6 242,605.4 244,605.5 246,605.9 248,606.1 250,606.0 252,605.8 254,605.7 256,605.9 258,606.5 260,607.0 262,607.8 264,608.6 266,609.6 268,610.1 270,609.8 272,609.9 274,610.4 276,610.6 278,610.5 280,610.9 282,611.8 284,612.6 286,613.1 288,613.3 290,613.6 292,614.4 294,615.2 296,615.6 298,615.8 300,616.5 302,617.8 304,619.0 306,619.8 308,621.2 310,625.7 312,626.5 314,626.6 316,627.1 318,627.6 320,627.8 322,628.1 324,628.7 326,629.3 328,629.5 330,629.3 332,629.6 334,630.7 336,631.9 338,632.5 340,632.6 342,632.7 344,633.1 346,633.5 348,633.9 350,634.2 352,634.6 354,635.3 356,636.3 358,637.4 360,638.4 362,638.5 364,637.6 366,636.6 368,636.4 370,636.6 372,636.9 374,637.3 376,638.0 378,638.2 380,638.0 382,638.3 384,639.3 386,640.8 388,642.4 390,643.4 392,644.0 394,644.6 396,645.2 398,645.8 400,646.0 402,645.7 404,645.2 406,645.2 408,645.8 410,646.7 412,647.4 414,647.6 416,647.9 418,648.4 420,649.0 422,650.2 424,651.8 426,653.0 428,653.2 430,652.9 432,652.4 434,652.7 436,653.4 438,653.9 440,654.0 442,653.8 444,653.5 446,653.0 448,652.7 450,652.7 452,652.9 454,653.0 456,653.0 458,653.3 460,653.8 462,654.2 464,654.4 466,654.7 468,655.2 470,655.4 472,654.9 474,654.1 476,653.8 478,653.8 480,654.1 482,654.4 484,654.5 486,654.3 488,654.0 490,653.6 492,653.1 494,652.8 496,652.9 498,653.2 500,653.8 502,654.0 504,653.6 506,652.7 508,652.0 510,651.8 512,651.9 514,651.9 516,652.0 518,652.3 520,652.5 522,652.4 524,652.0 526,651.5 528,651.0 530,650.9 532,651.2 534,651.8 536,652.4 538,652.7 540,652.9 542,652.9 544,652.5 546,651.8 548,651.1 550,650.8 552,650.7 554,650.8 556,651.1 558,651.5 560,651.5 562,651.0 564,650.6 566,650.4 568,650.3 570,650.2 572,650.3 574,650.3 576,650.1 578,649.8 580,649.5 582,649.4 584,649.7 586,650.5 588,651.1 590,651.1 592,650.5 594,650.2 596,650.1 598,650.0 600,649.8 602,649.4 604,649.1 606,649.2 608,649.4 610,649.4 612,649.4 614,649.5 616,649.3 618,648.8 620,648.5 622,648.6 624,649.0 626,649.2 628,648.7 630,648.0 632,647.9 634,648.4 636,648.8 638,648.6 640,648.2 642,648.1 644,648.3 646,648.3 648,647.9 650,647.3 652,646.4 654,645.6 656,644.9 658,644.8 660,645.8 662,646.6 664,647.5 666,647.8 668,648.0 670,648.2 672,648.1 674,647.7 676,647.0 678,646.4 680,646.0 682,645.8 684,645.7 686,645.7 688,645.6 690,645.3 692,645.1 694,645.3 696,645.3 698,644.7 700,644.2 702,643.7 704,643.3 706,642.8 708,642.7 710,642.8 712,642.7 714,642.5 716,641.9 718,641.1 720,640.2 722,639.4 724,639.2 726,639.2 728,638.9 730,638.4 732,637.7 734,636.6 736,635.1 738,633.8 740,633.1 742,633.0 744,632.6 746,632.3 748,632.1 750,631.6 752,631.2 754,631.3 756,631.7 758,631.9 760,632.0 762,631.7 764,630.8 766,629.7 768,629.3 770,629.7 772,630.0 774,630.0 776,629.6 778,629.1 780,628.6 782,628.1 784,627.4 786,626.8 788,626.4 790,626.4 792,626.5 794,626.9 796,627.6 798,628.4 800,628.8 802,628.7 804,628.3 806,628.1 808,628.1 810,628.1 812,627.8 814,627.3 816,626.3 818,625.8 820,625.6 822,624.8 824,623.6 826,623.0 828,622.9 830,622.8 832,623.2 834,624.7 836,625.9 838,625.4 840,624.5 842,623.7 844,622.9 846,622.9 848,623.1 850,622.8 852,622.0 854,621.2 856,620.8 858,620.7 860,620.6 862,620.5 864,620.1 866,619.3 868,618.2 870,617.6 872,617.7 874,617.9 876,617.5 878,616.8 880,616.5 882,616.5 884,616.3 886,616.0 888,615.9 890,615.8 892,615.4 894,614.9 896,614.5 898,613.7 900,612.4 902,610.4 904,608.8 906,607.4 908,606.0 910,605.3 912,606.7 914,607.7 916,608.3 918,608.0 920,606.7 922,606.2 924,605.8 926,605.0 928,603.9 930,602.6 932,601.7 934,601.2 936,600.8 938,600.0 940,598.8 942,597.9 944,597.7 946,598.2 948,598.4 950,598.6 952,599.2 954,599.7 956,599.8 958,599.7 960,599.5 962,598.7 964,597.9 966,597.3 968,597.1 970,596.7 972,595.8 974,594.9 976,594.4 978,594.1 980,593.7 982,593.2 984,592.7 986,592.0 988,591.3 990,590.9 992,590.8 994,590.5 996,589.7 998,588.9 1000,588.3 1002,587.6 1004,586.7 1006,585.9 1008,585.6 1010,585.4 1012,585.3 1014,585.3 1016,585.1 1018,584.6 1020,584.0 1022,583.1 1024,582.2 1026,581.4 1028,581.0 1030,580.5 1032,579.0 1034,577.4 1036,576.0 1038,576.6 1040,577.7 1042,578.6 1044,579.4 1046,578.8 1048,578.1 1050,577.9 1052,578.0 1054,577.9 1056,577.1 1058,576.1 1060,575.3 1062,575.0 1064,574.8 1066,574.5 1068,574.0 1070,573.4 1072,573.1 1074,573.5 1076,574.0 1078,573.8 1080,572.5 1082,570.9 1084,569.8 1086,569.5 1088,569.3 1090,569.0 1092,568.4 1094,567.9 1096,567.6 1098,567.5 1100,567.5 1102,567.5 1104,567.1 1106,566.2 1108,565.7 1110,565.6 1112,565.3 1114,564.8 1116,564.6 1118,564.6 1120,564.7 1122,564.9 1124,565.1 1126,565.1 1128,564.9 1130,564.4 1132,563.8 1134,563.1 1136,562.0 1138,561.1 1140,560.8 1142,560.8 1144,560.5 1146,560.3 1148,560.2 1150,560.2 1152,560.1 1154,559.7 1156,557.6 1158,555.2 1160,553.0 1162,551.9 1164,554.1 1166,556.4 1168,557.8 1170,556.8 1172,555.8 1174,554.9 1176,553.7 1178,552.2 1180,551.1 1182,550.3 1184,549.4 1186,548.7 1188,548.2 1190,548.1 1192,548.4 1194,548.5 1196,548.2 1198,547.5 1200,546.8 1202,546.2 1204,546.0 1206,546.0 1208,546.0 1210,545.9 1212,546.0 1214,546.4 1216,546.8 1218,546.7 1220,546.5 1222,546.5 1224,546.5 1226,546.5 1228,546.8 1230,547.2 1232,547.3 1234,547.1 1236,546.6 1238,546.3 1240,545.9 1242,545.3 1244,544.7 1246,544.2 1248,544.3 1250,544.7 1252,544.8 1254,544.4 1256,543.8 1258,543.3 1260,543.2 1262,543.0 1264,541.8 1266,539.9 1268,538.9 1270,539.4 1272,540.2 1274,540.4 1276,540.3 1278,540.0 1280,539.9 1282,539.9 1284,540.0 1286,539.8 1288,539.3 1290,538.8 1292,538.5 1294,538.5 1296,538.6 1298,537.9 1300,536.3 1302,535.0 1304,534.8 1306,535.7 1308,536.4 1310,536.4 1312,536.0 1314,536.0 1316,536.3 1318,536.7 1320,537.0 1322,537.4 1324,537.9 1326,538.3 1328,538.4 1330,538.1 1332,537.2 1334,536.7 1336,536.5 1338,536.3 1340,535.8 1342,534.9 1344,533.9 1346,533.2 1348,532.9 1350,532.6 1352,532.2 1354,531.8 1356,531.0 1358,529.9 1360,529.1 1362,529.1 1364,529.0 1366,529.0 1368,529.4 1370,529.8 1372,529.7 1374,529.7 1376,529.6 1378,528.8 1380,527.7 1382,527.0 1384,526.5 1386,525.9 1388,525.6 1390,525.7 1392,526.0 1394,526.0 1396,526.1 1398,525.9 1400,525.6 1402,525.5 1404,525.9 1406,526.2 1408,526.2 1410,526.0 1412,525.7 1414,525.5 1416,525.4 1418,525.2 1420,525.0 1422,524.7" fill="none" stroke="#1e90ff" stroke-width="3.8" stroke-linejoin="round"/></g>
<path d="M421.2 629.1L439.3 660.4L403.1 660.4Z" fill="none" stroke="#f00" stroke-width="3.0" stroke-linejoin="miter"/>
<text transform="translate(421.2 467.8) scale(0.93 1)" font-size="25.6" font-weight="bold" fill="#f00" text-anchor="middle">-0.1</text>
<path d="M606.6 629.0L625.0 660.8L588.2 660.8Z" fill="none" stroke="#f00" stroke-width="3.0" stroke-linejoin="miter"/>
<text transform="translate(606.6 468) scale(0.93 1)" font-size="25.6" font-weight="bold" fill="#f00" text-anchor="middle">-0.1</text>
<path d="M792.0 607.2L810.5 639.3L773.5 639.3Z" fill="none" stroke="#f00" stroke-width="3.0" stroke-linejoin="miter"/>
<text transform="translate(792.0 446.1) scale(0.93 1)" font-size="25.6" font-weight="bold" fill="#f00" text-anchor="middle">0.4</text>
<path d="M977.4 572.1L995.9 604.1L958.9 604.1Z" fill="none" stroke="#f00" stroke-width="3.0" stroke-linejoin="miter"/>
<text transform="translate(977.4 411.4) scale(0.93 1)" font-size="25.6" font-weight="bold" fill="#f00" text-anchor="middle">1.3</text>
<path d="M1162.9 530.0L1181.2 561.7L1144.6 561.7Z" fill="none" stroke="#f00" stroke-width="3.0" stroke-linejoin="miter"/>
<text transform="translate(1162.9 369.1) scale(0.93 1)" font-size="25.6" font-weight="bold" fill="#f00" text-anchor="middle">2.4</text>
<path d="M1347.9 515.0L1366.2 546.7L1329.6 546.7Z" fill="none" stroke="#f00" stroke-width="3.0" stroke-linejoin="miter"/>
<text transform="translate(1347.9 353.8) scale(0.93 1)" font-size="25.6" font-weight="bold" fill="#f00" text-anchor="middle">2.7</text>
<text x="200.0" y="183.0" font-size="29.6" text-anchor="start" font-weight="bold" fill="#6b8e23" >UTC link</text>
<text x="199.0" y="809.0" font-size="30.15" text-anchor="start" font-weight="bold" style="white-space:pre">GPS.GPI/Tai2603__OR5Z-PT13/026-005#_  9791/1_AV/L2U__CLB__________</text>
<path d="M162 125h1261v1h-1261zM162 845h1261v1h-1261zM162 125h1v721h-1zM1422 125h1v721h-1z" fill="#000"/>
<path d="M160 118h3v8h-3zM160 844h3v8h-3zM198 118h2v8h-2zM198 844h2v8h-2zM235 118h2v8h-2zM235 844h2v8h-2zM272 111h2v15h-2zM272 844h2v15h-2zM309 118h2v8h-2zM309 844h2v8h-2zM346 118h2v8h-2zM346 844h2v8h-2zM383 118h3v8h-3zM383 844h3v8h-3zM420 118h3v8h-3zM420 844h3v8h-3zM457 111h3v15h-3zM457 844h3v15h-3zM494 118h3v8h-3zM494 844h3v8h-3zM531 118h3v8h-3zM531 844h3v8h-3zM568 118h3v8h-3zM568 844h3v8h-3zM605 118h3v8h-3zM605 844h3v8h-3zM642 111h3v15h-3zM642 844h3v15h-3zM679 118h3v8h-3zM679 844h3v8h-3zM717 118h2v8h-2zM717 844h2v8h-2zM754 118h2v8h-2zM754 844h2v8h-2zM791 118h2v8h-2zM791 844h2v8h-2zM828 111h2v15h-2zM828 844h2v15h-2zM865 118h2v8h-2zM865 844h2v8h-2zM902 118h2v8h-2zM902 844h2v8h-2zM939 118h3v8h-3zM939 844h3v8h-3zM976 118h3v8h-3zM976 844h3v8h-3zM1013 111h3v15h-3zM1013 844h3v15h-3zM1050 118h3v8h-3zM1050 844h3v8h-3zM1087 118h3v8h-3zM1087 844h3v8h-3zM1124 118h3v8h-3zM1124 844h3v8h-3zM1161 118h3v8h-3zM1161 844h3v8h-3zM1198 111h3v15h-3zM1198 844h3v15h-3zM1235 118h3v8h-3zM1235 844h3v8h-3zM1273 118h2v8h-2zM1273 844h2v8h-2zM1310 118h2v8h-2zM1310 844h2v8h-2zM1347 118h2v8h-2zM1347 844h2v8h-2zM1384 111h2v15h-2zM1384 844h2v15h-2zM1421 118h2v8h-2zM1421 844h2v8h-2z" fill="#000"/>
<path d="M148 844h15v2h-15zM1421 844h15v2h-15zM148 644h15v2h-15zM1421 644h15v2h-15zM148 444h15v2h-15zM1421 444h15v2h-15zM148 244h15v2h-15zM1421 244h15v2h-15z" fill="#000"/>
<text x="136.0" y="256.0" font-size="30.5" text-anchor="end" >10</text>
<text x="136.0" y="456.0" font-size="30.5" text-anchor="end" >5</text>
<text x="136.0" y="656.0" font-size="30.5" text-anchor="end" >0</text>
<text x="136.0" y="856.0" font-size="30.5" text-anchor="end" >−5</text>
<text x="273.0" y="892.5" font-size="30.5" text-anchor="middle" >61100</text>
<text x="458.3" y="892.5" font-size="30.5" text-anchor="middle" >61105</text>
<text x="643.7" y="892.5" font-size="30.5" text-anchor="middle" >61110</text>
<text x="829.0" y="892.5" font-size="30.5" text-anchor="middle" >61115</text>
<text x="1014.3" y="892.5" font-size="30.5" text-anchor="middle" >61120</text>
<text x="1199.7" y="892.5" font-size="30.5" text-anchor="middle" >61125</text>
<text x="1385.0" y="892.5" font-size="30.5" text-anchor="middle" >61130</text>
<text x="792.5" y="922.8" font-size="30" text-anchor="middle" font-weight="bold" >Modified Julian Date</text>
<text transform="translate(93 485) rotate(-90)" font-size="29.85" font-weight="bold" text-anchor="middle">nanosecond</text>
<defs><marker id="mx" markerUnits="userSpaceOnUse" markerWidth="8" markerHeight="8" refX="2" refY="2" overflow="visible"><path d="M0 0h1v1h-1zM1 1h1v1h-1zM2 2h1v1h-1zM3 3h1v1h-1zM4 4h1v1h-1zM4 0h1v1h-1zM3 1h1v1h-1zM1 3h1v1h-1zM0 4h1v1h-1z" fill="#000"/></marker></defs>
<path d="M162 1166l0 -11l0 -19l0 52l0 -20l0 -10l1 21l0 -21l0 43l0 -15l0 -15l0 31l0 -80l0 6l1 13l0 8l0 -1l0 23l0 0l0 36l0 -56l1 19l0 36l0 -23l0 -27l0 43l0 -22l0 33l0 -34l1 -8l0 47l0 -33l0 -24l0 16l0 -37l0 12l0 -6l1 48l0 -6l0 -25l0 -4l0 21l0 -6l0 15l0 -10l1 -17l0 -22l0 18l0 -7l0 53l0 -45l0 -9l0 38l1 -38l0 7l0 -8l0 11l0 23l0 -5l0 -9l1 51l0 -34l0 -4l0 -1l0 9l0 1l0 -16l0 7l1 -39l0 27l0 1l0 -18l0 18l0 -1l0 -24l0 4l1 24l0 22l0 -14l0 -23l0 44l0 -63l0 31l0 29l1 -55l0 30l0 25l0 -10l0 -29l0 -19l0 22l1 2l0 7l0 -36l0 7l0 101l0 -76l0 124l0 12l1 -182l0 137l0 40l0 -156l0 22l0 -18l0 94l0 -71l1 -29l0 28l0 -51l0 38l0 -31l0 59l0 67l0 -68l1 7l0 -26l0 34l0 -28l0 -63l0 168l0 -4l1 -168l0 51l0 -17l0 36l0 -7l0 -8l0 14l0 -11l1 2l0 -21l0 38l0 -13l0 42l0 -26l0 -8l0 -6l1 28l0 -19l0 13l0 -13l0 4l0 -4l0 -24l0 -10l1 8l0 32l0 -22l0 32l0 -37l0 -3l0 21l0 -7l1 -16l0 2l0 26l0 3l0 19l0 -27l0 5l1 -11l0 -11l0 38l0 -12l0 -8l0 24l0 -33l0 12l1 -17l0 -6l0 -1l0 19l0 -10l0 1l0 -17l0 57l1 -31l0 10l0 -17l0 -19l0 17l0 1l0 17l0 -20l1 1l0 25l0 -33l0 22l0 33l0 -38l0 -14l1 1l0 6l0 4l0 -14l0 2l0 47l0 -22l0 -16l1 3l0 -17l0 -4l0 17l0 10l0 -41l0 51l0 -15l1 -42l0 27l0 1l0 12l0 -24l0 -34l0 51l0 11l1 -27l0 -15l0 69l0 -15l0 -28l0 27l0 -35l1 24l0 -15l0 9l0 -15l0 56l0 -46l0 3l0 -2l1 34l0 -56l0 40l0 -53l0 51l0 -7l0 5l0 59l1 0l0 -94l0 49l0 -25l0 37l0 -56l0 49l0 -5l1 -20l0 -13l0 36l0 -24l0 -12l0 78l0 -53l0 43l1 -80l0 -24l0 21l0 59l0 -60l0 6l0 14l1 74l0 -90l0 27l0 19l0 28l0 -65l0 24l0 2l1 12l0 -36l0 32l0 -17l0 10l0 -40l0 6l0 21l1 13l0 5l0 -25l0 33l0 -17l0 -24l0 13l0 -16l1 32l0 -6l0 -7l0 -19l0 -5l0 -3l0 23l1 16l0 -6l0 -8l0 31l0 -13l0 16l0 -40l0 1l1 23l0 -37l0 17l0 4l0 -16l0 7l0 28l0 -8l1 15l0 -41l0 15l0 -20l0 32l0 9l0 -46l0 6l1 46l0 -50l0 35l0 -45l0 21l0 22l0 -8l1 -1l0 55l0 -72l0 20l0 -21l0 71l0 -71l0 14l1 23l0 -62l0 23l0 35l0 -2l0 -33l0 -19l0 25l1 19l0 -44l0 47l0 -38l0 13l0 16l0 10l0 -1l1 -11l0 -28l0 29l0 16l0 -44l0 6l0 19l0 -24l1 22l0 -33l0 38l0 13l0 -6l0 -11l0 -1l1 15l0 -1l0 15l0 -15l0 -43l0 36l0 16l0 -18l1 14l0 -13l0 15l0 -41l0 40l0 -11l0 -35l0 30l1 -26l0 30l0 -20l0 -28l0 62l0 -29l0 33l0 -22l1 13l0 -16l0 27l0 18l0 -54l0 10l0 -24l1 22l0 2l0 19l0 10l0 -30l0 26l0 -51l0 -1l1 18l0 -14l0 26l0 9l0 -59l0 54l0 -31l0 42l1 -24l0 -10l0 51l0 -3l0 44l0 -67l0 -8l0 16l1 -96l0 -24l0 126l0 -29l0 18l0 -80l0 155l1 -101l0 87l0 -75l0 -86l0 117l0 -109l0 -10l0 76l1 31l0 42l0 20l0 -57l0 -7l0 56l0 -92l0 85l1 -68l0 95l0 -69l0 -67l0 46l0 -22l0 22l0 -10l1 8l0 -8l0 3l0 -15l0 33l0 -6l0 9l0 -13l1 -10l0 8l0 41l0 -69l0 41l0 -21l0 23l1 -6l0 -26l0 6l0 -16l0 62l0 -12l0 4l0 -46l1 6l0 26l0 -1l0 -16l0 -21l0 -5l0 45l0 -32l1 22l0 -36l0 -21l0 42l0 -1l0 65l0 -64l0 46l1 -22l0 -30l0 50l0 -81l0 59l0 71l0 -71l1 -25l0 26l0 -10l0 46l0 -67l0 5l0 22l0 -1l1 16l0 -2l0 -25l0 -2l0 -9l0 -8l0 3l0 68l1 -55l0 11l0 -29l0 40l0 2l0 -24l0 37l0 -23l1 24l0 -13l0 15l0 1l0 -54l0 32l0 12l1 7l0 -43l0 20l0 -8l0 -33l0 61l0 16l0 -128l1 56l0 25l0 -25l0 56l0 -35l0 23l0 -19l0 -20l1 13l0 10l0 -8l0 8l0 -17l0 21l0 -38l0 26l1 4l0 40l0 8l0 -41l0 6l0 -49l0 55l0 4l1 -36l0 58l0 -43l0 -37l0 -20l0 96l0 -34l1 -20l0 23l0 13l0 -19l0 -5l0 82l0 -110l0 114l1 -61l0 -6l0 90l0 -192l0 -9l0 173l0 -79l0 -99l1 189l0 -177l0 55l0 -62l0 108l0 -48l0 51l0 -96l1 156l0 -36l0 39l0 -166l0 4l0 126l0 -143l1 201l0 -10l0 -163l0 173l0 -99l0 -23l0 35l0 12l1 -1l0 24l0 -72l0 18l0 9l0 -5l0 -23l0 34l1 19l0 -49l0 69l0 -40l0 -31l0 -7l0 32l0 1l1 1l0 2l0 -3l0 -31l0 19l0 -25l0 23l1 19l0 -2l0 -50l0 57l0 -33l0 41l0 -31l0 18l1 -1l0 -1l0 10l0 -18l0 -25l0 20l0 26l0 -27l1 60l0 -49l0 -48l0 95l0 -42l0 -27l0 -19l0 13l1 35l0 -43l0 1l0 40l0 -9l0 20l0 -12l0 -35l1 53l0 -49l0 17l0 0l0 20l0 -28l0 18l1 1l0 30l0 -34l0 8l0 -25l0 -6l0 25l0 10l1 60l0 -56l0 -30l0 45l0 32l0 -92l0 0l0 23l1 57l0 -94l0 37l0 19l0 -15l0 -18l0 29l0 -24l1 23l0 -10l0 -3l0 57l0 -76l0 82l0 -65l1 5l0 9l0 -33l0 28l0 -18l0 53l0 -76l0 37l1 -2l0 27l0 -2l0 -27l0 76l0 -93l0 41l0 1l1 -17l0 -38l0 34l0 -18l0 49l0 -13l0 -31l0 42l1 31l0 -40l0 -7l0 -3l0 -19l0 1l0 22l1 -20l0 14l0 -5l0 22l0 -33l0 20l0 -32l0 54l1 -52l0 47l0 -33l0 32l0 -4l0 -34l0 49l0 -53l1 -25l0 29l0 47l0 -46l0 16l0 -6l0 4l0 -23l1 -13l0 28l0 -22l0 39l0 -59l0 68l0 3l0 -15l1 -24l0 -4l0 53l0 -37l0 -4l0 -45l0 59l1 23l0 6l0 -31l0 -14l0 6l0 6l0 15l0 -16l1 -2l0 -51l0 36l0 39l0 -13l0 -5l0 39l0 -43l1 -4l0 1l0 23l0 -15l0 -11l0 -12l0 11l0 34l1 -42l0 -18l0 37l0 49l0 -71l0 -5l0 21l1 9l0 -32l0 6l0 18l0 3l0 -8l0 -17l0 18l1 28l0 -12l0 -16l0 -5l0 20l0 -27l0 28l0 -33l1 -15l0 18l0 15l0 -10l0 57l0 -74l0 48l0 3l1 -12l0 12l0 -19l0 6l0 -5l0 -25l0 16l1 21l0 -9l0 14l0 -38l0 43l0 -14l0 -42l0 40l1 -10l0 -7l0 44l0 -37l0 -32l0 32l0 -9l0 31l1 -19l0 7l0 -7l0 28l0 -15l0 -22l0 23l0 -25l1 -20l0 26l0 3l0 -10l0 31l0 -8l0 11l0 -5l1 -52l0 51l0 -16l0 7l0 2l0 -3l0 -2l1 -11l0 13l0 -14l0 11l0 3l0 -20l0 -21l0 59l1 -21l0 -17l0 -21l0 55l0 2l0 -38l0 29l0 -28l1 16l0 6l0 -3l0 -1l0 25l0 0l0 -27l0 -40l1 34l0 40l0 -13l0 -21l0 19l0 -25l0 19l1 1l0 11l0 -35l0 2l0 -1l0 -6l0 16l0 -27l1 45l0 -36l0 24l0 1l0 4l0 -25l0 7l0 -18l1 40l0 -22l0 23l0 -30l0 -18l0 47l0 -41l0 43l1 -50l0 26l0 -8l0 33l0 -54l0 34l0 7l1 -29l0 35l0 -10l0 2l0 9l0 -38l0 -12l0 53l1 -51l0 10l0 29l0 -20l0 -27l0 52l0 -1l0 8l1 -61l0 21l0 36l0 -13l0 -16l0 18l0 -28l0 22l1 -24l0 18l0 2l0 17l0 -19l0 -10l0 48l0 -43l1 -14l0 7l0 10l0 12l0 17l0 -3l0 -11l1 14l0 -23l0 12l0 -4l0 -31l0 21l0 -10l0 47l1 -45l0 28l0 -48l0 61l0 -14l0 -32l0 -24l0 69l1 -24l0 10l0 -46l0 -10l0 35l0 -12l0 30l0 10l1 -33l0 19l0 -24l0 21l0 27l0 -30l0 -2l1 -19l0 15l0 -24l0 39l0 7l0 -36l0 8l0 21l1 -14l0 16l0 -12l0 4l0 -39l0 51l0 -27l0 -11l1 -8l0 45l0 6l0 -32l0 17l0 -21l0 -3l0 26l1 -5l0 29l0 -22l0 -23l0 -27l0 74l0 -5l1 -18l0 -24l0 51l0 -37l0 -26l0 71l0 -22l0 -36l1 -8l0 38l0 -33l0 -2l0 46l0 -25l0 9l0 -5l1 -10l0 26l0 15l0 -10l0 -1l0 -22l0 -22l0 28l1 4l0 -4l0 -25l0 18l0 -4l0 14l0 -12l0 7l1 -30l0 21l0 -23l0 15l0 4l0 39l0 -30l1 15l0 -38l0 12l0 -1l0 11l0 -29l0 65l0 -53l1 22l0 12l0 -6l0 -13l0 -6l0 -15l0 33l0 2l1 -34l0 -2l0 41l0 -6l0 -19l0 11l0 -18l0 27l1 -2l0 -69l0 36l0 -9l0 22l0 19l0 -33l1 -7l0 31l0 2l0 -15l0 12l0 25l0 -39l0 -2l1 45l0 -62l0 51l0 2l0 -6l0 -15l0 1l0 28l1 -31l0 -6l0 20l0 71l0 -64l0 -7l0 -24l0 20l1 -15l0 -40l0 47l0 3l0 -18l0 -6l0 -77l1 217l0 -34l0 -28l0 -43l0 105l0 -99l0 41l0 -55l1 71l0 -204l0 50l0 198l0 -100l0 89l0 -107l0 66l1 -171l0 -27l0 234l0 -192l0 -43l0 -4l0 230l0 -92l1 -79l0 86l0 -105l0 169l0 -82l0 -6l0 15l0 -21l1 13l0 -2l0 24l0 -10l0 1l0 -22l0 17l1 0l0 1l0 -24l0 28l0 3l0 -13l0 4l0 -20l1 3l0 11l0 6l0 -2l0 -18l0 13l0 -3l0 39l1 -16l0 -13l0 -10l0 0l0 7l0 24l0 -24l0 12l1 17l0 -16l0 -6l0 -8l0 -7l0 7l0 3l1 6l0 -6l0 14l0 -23l0 -9l0 4l0 6l0 12l1 -3l0 -1l0 -1l0 33l0 -21l0 -36l0 23l0 -17l1 25l0 13l0 -16l0 1l0 5l0 -25l0 -3l0 27l1 -34l0 13l0 27l0 -28l0 8l0 5l0 20l1 -26l0 16l0 -33l0 36l0 6l0 26l0 -30l0 -34l1 31l0 -21l0 -12l0 28l0 -9l0 11l0 -18l0 18l1 -27l0 6l0 32l0 -46l0 22l0 14l0 -14l0 2l1 -9l0 0l0 -5l0 32l0 -20l0 12l0 12l0 -10l1 3l0 -18l0 9l0 -9l0 6l0 -3l0 -4l1 16l0 -8l0 0l0 5l0 6l0 -17l0 -4l0 -16l1 21l0 0l0 17l0 -13l0 -37l0 10l0 19l0 -15l1 0l0 -6l0 18l0 17l0 -10l0 -13l0 22l0 -6l1 10l0 -3l0 11l0 -33l0 23l0 -10l0 8l1 -3l0 11l0 -7l0 6l0 -15l0 10l0 -23l0 19l1 -11l0 19l0 11l0 -14l0 -21l0 0l0 -3l0 20l1 0l0 -7l0 6l0 -11l0 -4l0 -1l0 22l0 -29l1 44l0 -20l0 2l0 -6l0 3l0 -18l0 24l1 -19l0 24l0 -14l0 -5l0 -8l0 28l0 13l0 -50l1 33l0 -8l0 -1l0 -20l0 8l0 -6l0 -2l0 11l1 9l0 -20l0 5l0 7l0 29l0 -16l0 -13l0 11l1 -18l0 -22l0 33l0 -4l0 -6l0 -12l0 50l0 -21l1 -24l0 19l0 21l0 -29l0 24l0 -40l0 11l1 17l0 10l0 -21l0 11l0 -1l0 4l0 -2l0 7l1 -24l0 -4l0 26l0 6l0 -27l0 -6l0 9l0 -8l1 5l0 9l0 4l0 7l0 -9l0 22l0 -42l0 34l1 -18l0 -2l0 6l0 0l0 -19l0 24l0 -15l1 0l0 26l0 -16l0 22l0 -22l0 -2l0 19l0 -36l1 36l0 -33l0 37l0 -31l0 34l0 -18l0 10l0 -20l1 14l0 -8l0 -5l0 16l0 -8l0 -8l0 15l0 -17l1 28l0 -49l0 12l0 33l0 -9l0 -5l0 -12l1 -3l0 -4l0 -1l0 17l0 -4l0 4l0 -10l0 10l1 21l0 -17l0 -38l0 32l0 -15l0 16l0 3l0 -4l1 3l0 -14l0 17l0 18l0 -35l0 4l0 12l0 -3l1 -12l0 5l0 18l0 -30l0 -16l0 33l0 13l0 -27l1 -4l0 29l0 8l0 -2l0 -11l0 8l0 -8l1 0l0 16l0 -26l0 -13l0 44l0 -23l0 3l0 4l1 -11l0 15l0 -24l0 15l0 9l0 -19l0 4l0 -17l1 17l0 7l0 -30l0 22l0 -2l0 -14l0 26l0 -6l1 9l0 -35l0 36l0 3l0 1l0 -38l0 9l1 23l0 0l0 -39l0 38l0 -18l0 19l0 -41l0 41l1 9l0 -21l0 -1l0 8l0 5l0 14l0 -12l0 -35l1 45l0 -38l0 -13l0 12l0 13l0 -12l0 0l0 33l1 -24l0 20l0 14l0 -40l0 23l0 -14l0 20l1 -29l0 5l0 12l0 8l0 -3l0 -11l0 10l0 5l1 -20l0 2l0 -8l0 2l0 26l0 -16l0 13l0 6l1 -20l0 6l0 -9l0 11l0 -15l0 11l0 -5l0 12l1 -32l0 28l0 21l0 -6l0 -36l0 -7l0 12l0 -9l1 24l0 3l0 -24l0 7l0 2l0 -1l0 9l1 21l0 -36l0 11l0 13l0 -4l0 -17l0 20l0 6l1 -20l0 -6l0 -1l0 1l0 7l0 6l0 22l0 -22l1 6l0 -29l0 27l0 -10l0 -6l0 24l0 -51l0 21l1 1l0 36l0 -22l0 -16l0 27l0 -10l0 -1l1 6l0 2l0 27l0 -19l0 -10l0 -7l0 -20l0 -9l1 14l0 15l0 16l0 -11l0 -16l0 20l0 -10l0 -13l1 16l0 9l0 -28l0 12l0 -5l0 9l0 16l0 -30l1 0l0 11l0 -2l0 2l0 20l0 -20l0 22l1 -20l0 9l0 -24l0 26l0 -5l0 0l0 23l0 -22l1 -2l0 9l0 -27l0 14l0 -2l0 -2l0 -6l0 -9l1 26l0 -8l0 5l0 5l0 1l0 7l0 -16l0 -10l1 18l0 1l0 5l0 5l0 -36l0 17l0 24l0 -42l1 10l0 10l0 8l0 -19l0 16l0 -29l0 26l1 -7l0 16l0 -24l0 7l0 0l0 -15l0 32l0 13l1 1l0 -16l0 -4l0 0l0 -11l0 -7l0 23l0 -25l1 22l0 6l0 -22l0 -2l0 3l0 21l0 -30l0 12l1 15l0 -20l0 8l0 3l0 7l0 -29l0 27l1 21l0 -26l0 -4l0 24l0 -46l0 6l0 20l0 -15l1 13l0 -9l0 11l0 19l0 -12l0 -1l0 -33l0 52l1 -23l0 -10l0 2l0 15l0 9l0 -16l0 -7l0 7l1 7l0 -11l0 13l0 2l0 10l0 -26l0 -5l1 8l0 4l0 -2l0 -13l0 17l0 -6l0 -5l0 6l1 -6l0 -4l0 12l0 -28l0 33l0 -9l0 -3l0 4l1 13l0 -14l0 12l0 -10l0 -8l0 -3l0 10l0 5l1 -13l0 9l0 -24l0 32l0 -13l0 -16l0 30l1 4l0 -27l0 -8l0 10l0 5l0 12l0 -11l0 -7l1 16l0 16l0 -35l0 29l0 2l0 -11l0 -19l0 29l1 -16l0 -23l0 18l0 8l0 7l0 10l0 -37l0 34l1 -18l0 -11l0 20l0 -5l0 -15l0 11l0 -14l0 1l1 -4l0 36l0 -21l0 2l0 19l0 4l0 -20l1 -17l0 3l0 21l0 -7l0 0l0 -12l0 19l0 -1l1 10l0 -27l0 -14l0 18l0 -2l0 -3l0 25l0 -22l1 -12l0 6l0 16l0 7l0 -1l0 -14l0 13l0 -9l1 -2l0 7l0 8l0 -17l0 15l0 -4l0 -20l1 5l0 36l0 -13l0 -23l0 21l0 -22l0 -3l0 0l1 -9l0 38l0 -5l0 -5l0 0l0 -18l0 6l0 16l1 -4l0 9l0 20l0 -18l0 -41l0 14l0 14l0 -2l1 -12l0 10l0 -16l0 14l0 -27l0 20l0 23l1 -2l0 -6l0 -28l0 26l0 -16l0 30l0 -25l0 20l1 -7l0 -6l0 17l0 -46l0 43l0 -8l0 -27l0 9l1 42l0 -35l0 -9l0 27l0 -13l0 9l0 0l0 -31l1 9l0 23l0 5l0 -25l0 7l0 30l0 -30l0 19l1 -7l0 0l0 -25l0 16l0 12l0 -3l0 -23l1 9l0 11l0 -2l0 -14l0 13l0 0l0 5l0 22l1 -38l0 10l0 -13l0 -29l0 44l0 -12l0 12l0 -1l1 7l0 -6l0 -5l0 -21l0 23l0 6l0 -20l0 24l1 -20l0 6l0 9l0 -12l0 -9l0 6l0 32l1 -1l0 -21l0 2l0 15l0 -28l0 4l0 -9l0 11l1 -18l0 17l0 10l0 -13l0 3l0 24l0 -9l0 -18l1 6l0 11l0 -6l0 -1l0 1l0 -9l0 -2l0 18l1 -39l0 25l0 5l0 -25l0 24l0 15l0 1l1 -9l0 1l0 14l0 -17l0 6l0 -27l0 10l0 17l1 -24l0 15l0 23l0 -25l0 -18l0 17l0 5l0 -5l1 8l0 -15l0 4l0 8l0 -14l0 -12l0 18l0 -12l1 5l0 13l0 -3l0 -18l0 14l0 -8l0 32l0 0l1 2l0 -46l0 20l0 -7l0 20l0 -8l0 13l1 -2l0 -14l0 7l0 -1l0 -1l0 -20l0 5l0 -11l1 26l0 5l0 -11l0 -6l0 27l0 -26l0 12l0 -10l1 2l0 8l0 6l0 -7l0 -17l0 36l0 -24l0 4l1 1l0 -5l0 -3l0 5l0 -16l0 20l0 -31l1 51l0 -44l0 25l0 11l0 -4l0 -5l0 -9l0 3l1 -17l0 22l0 -2l0 1l0 -56l0 51l0 -19l0 27l1 -3l0 2l0 4l0 -5l0 6l0 17l0 -6l0 -7l1 19l0 -23l0 -18l0 5l0 24l0 -1l0 -12l1 3l0 -17l0 5l0 -1l0 27l0 -36l0 9l0 -31l1 24l0 7l0 4l0 5l0 6l0 -16l0 -4l0 -13l1 15l0 -8l0 8l0 7l0 -10l0 -1l0 11l0 0l1 -1l0 24l0 -30l0 22l0 -47l0 31l0 -6l0 -1l1 27l0 -47l0 32l0 -22l0 -3l0 5l0 49l1 -22l0 -9l0 10l0 -15l0 -21l0 4l0 21l0 9l1 -24l0 1l0 13l0 7l0 -31l0 -2l0 6l0 6l1 -35l0 41l0 18l0 -34l0 34l0 -4l0 -6l0 -2l1 -21l0 9l0 42l0 -36l0 0l0 -15l0 40l1 -14l0 7l0 -16l0 -10l0 15l0 -31l0 41l0 -15l1 11l0 9l0 -9l0 -9l0 9l0 0l0 -8l0 8l1 -21l0 4l0 7l0 -12l0 42l0 -16l0 -29l0 28l1 -24l0 6l0 5l0 4l0 13l0 4l0 3l1 -28l0 6l0 -5l0 -5l0 9l0 -14l0 24l0 -3l1 -2l0 -32l0 13l0 -11l0 -9l0 37l0 -7l0 35l1 -32l0 8l0 -7l0 -1l0 30l0 -33l0 11l0 10l1 -8l0 -18l0 19l0 -27l0 11l0 8l0 12l0 -1l1 -26l0 15l0 -3l0 -1l0 -7l0 1l0 14l1 -8l0 6l0 -9l0 26l0 -16l0 -20l0 33l0 -7l1 -12l0 19l0 -17l0 -3l0 -6l0 8l0 -2l0 10l1 -36l0 26l0 -4l0 -2l0 0l0 1l0 5l0 3l1 7l0 -15l0 -4l0 19l0 -6l0 1l0 1l1 11l0 -10l0 -12l0 2l0 -4l0 19l0 20l0 -14l1 -14l0 -9l0 -16l0 11l0 41l0 -21l0 -2l0 -25l1 31l0 -6l0 -19l0 38l0 -16l0 -17l0 24l0 -20l1 5l0 3l0 -1l0 5l0 -5l0 -15l0 24l1 -12l0 8l0 -19l0 -4l0 8l0 41l0 -26l0 -3l1 -7l0 7l0 -12l0 10l0 15l0 -4l0 -42l0 -2l1 29l0 22l0 -23l0 12l0 -26l0 -18l0 3l0 32l1 0l0 16l0 -27l0 0l0 -3l0 28l0 -11l0 -14l1 9l0 21l0 -19l0 -13l0 41l0 -49l0 23l1 -22l0 7l0 8l0 6l0 1l0 7l0 -11l0 -3l1 24l0 -11l0 23l0 -11l0 -10l0 -16l0 6l0 -1l1 7l0 9l0 -26l0 2l0 24l0 -11l0 9l0 1l1 -3l0 -17l0 4l0 -11l0 17l0 -13l0 2l1 -18l0 35l0 -10l0 -14l0 5l0 -1l0 -13l0 25l1 -18l0 12l0 -19l0 21l0 3l0 1l0 -2l0 8l1 37l0 -53l0 20l0 -15l0 -12l0 19l0 -15l0 -2l1 17l0 13l0 -15l0 -4l0 -9l0 35l0 -45l1 12l0 11l0 -18l0 23l0 -14l0 0l0 1l0 26l1 -15l0 -6l0 3l0 5l0 -10l0 -14l0 33l0 -33l1 28l0 0l0 1l0 -23l0 20l0 -24l0 24l0 5l1 -43l0 21l0 39l0 -19l0 -14l0 -18l0 -6l0 39l1 -23l0 11l0 2l0 1l0 11l0 -4l0 -8l1 -10l0 24l0 -37l0 24l0 -16l0 24l0 2l0 -30l1 7l0 33l0 -32l0 28l0 -27l0 -4l0 10l0 4l1 -2l0 5l0 4l0 -17l0 14l0 15l0 -27l0 -19l1 9l0 16l0 8l0 -3l0 -25l0 8l0 21l1 -14l0 -17l0 19l0 -1l0 9l0 15l0 -34l0 3l1 -1l0 -7l0 18l0 4l0 -11l0 21l0 10l0 -21l1 4l0 3l0 -13l0 -8l0 18l0 18l0 -4l0 -10l1 -10l0 -2l0 -7l0 -20l0 40l0 -27l0 16l1 -5l0 7l0 -19l0 3l0 -8l0 -8l0 44l0 -16l1 -13l0 -1l0 6l0 16l0 -36l0 38l0 -24l0 18l1 -2l0 -15l0 22l0 -21l0 9l0 15l0 -13l0 -4l1 -5l0 -6l0 33l0 -8l0 -31l0 39l0 -44l0 32l1 -2l0 1l0 6l0 -23l0 10l0 11l0 -5l1 -9l0 1l0 -7l0 -5l0 23l0 6l0 -7l0 -8l1 10l0 -12l0 20l0 -15l0 -5l0 15l0 -21l0 -11l1 52l0 -20l0 -8l0 -13l0 23l0 -15l0 -16l0 15l1 11l0 0l0 -11l0 -2l0 0l0 5l0 28l1 -17l0 -7l0 -6l0 -4l0 15l0 -18l0 -11l0 14l1 -4l0 16l0 7l0 -19l0 2l0 -9l0 18l0 9l1 0l0 -10l0 -11l0 -9l0 22l0 -5l0 4l0 -24l1 37l0 -26l0 4l0 -10l0 4l0 25l0 7l1 7l0 -24l0 -10l0 4l0 8l0 -12l0 25l0 -35l1 -3l0 4l0 6l0 -13l0 41l0 -5l0 -14l0 0l1 5l0 -11l0 11l0 -26l0 20l0 32l0 -25l0 4l1 9l0 -31l0 25l0 12l0 -19l0 -29l0 23l0 -24l1 16l0 -16l0 15l0 1l0 47l0 -20l0 0l1 -14l0 -17l0 3l0 2l0 33l0 -12l0 -37l0 17l1 5l0 14l0 7l0 -32l0 26l0 -11l0 -2l0 -6l1 16l0 6l0 -13l0 8l0 -13l0 22l0 -15l0 12l1 -9l0 16l0 -10l0 -10l0 3l0 10l0 -5l1 -10l0 -22l0 2l0 -6l0 30l0 -10l0 -15l0 10l1 4l0 2l0 -10l0 18l0 -11l0 15l0 -21l0 3l1 7l0 18l0 -16l0 -23l0 29l0 -12l0 27l0 -8l1 -14l0 -12l0 1l0 19l0 -33l0 61l0 -16l1 -34l0 -3l0 -6l0 34l0 7l0 1l0 -6l0 -19l1 11l0 0l0 -13l0 39l0 -33l0 -17l0 28l0 -10l1 11l0 -20l0 25l0 -3l0 -21l0 36l0 -51l0 16l1 10l0 3l0 -12l0 2l0 18l0 -15l0 13l0 -4l1 -7l0 -1l0 5l0 -3l0 4l0 -1l0 -25l1 2l0 31l0 16l0 -39l0 -14l0 28l0 -8l0 4l1 -4l0 11l0 -6l0 7l0 -4l0 -6l0 21l0 -33l1 13l0 -1l0 12l0 17l0 11l0 -31l0 25l0 -59l1 8l0 23l0 -10l0 -13l0 11l0 46l0 -54l1 41l0 -18l0 -27l0 31l0 10l0 -19l0 3l0 24l1 -47l0 20l0 1l0 -3l0 0l0 -16l0 20l0 5l1 -14l0 3l0 -6l0 21l0 -18l0 -1l0 21l0 -21l1 8l0 -19l0 -4l0 18l0 19l0 -14l0 11l1 -1l0 -27l0 9l0 11l0 -27l0 21l0 -30l0 25l1 4l0 0l0 -15l0 7l0 9l0 29l0 -36l0 6l1 3l0 -15l0 25l0 -14l0 2l0 21l0 -17l0 -4l1 5l0 -10l0 7l0 -10l0 37l0 -22l0 5l0 -17l1 -16l0 13l0 -3l0 2l0 -10l0 35l0 -21l1 18l0 -5l0 -16l0 -1l0 12l0 -16l0 15l0 1l1 -2l0 0l0 -14l0 1l0 19l0 -3l0 4l0 9l1 -20l0 -2l0 21l0 -18l0 11l0 6l0 -14l0 40l1 -46l0 0l0 7l0 -7l0 3l0 4l0 10l1 -23l0 1l0 -2l0 26l0 0l0 -15l0 -45l0 47l1 -14l0 27l0 -20l0 32l0 -14l0 3l0 -21l0 15l1 -8l0 -11l0 19l0 -19l0 23l0 -28l0 29l0 2l1 -20l0 -12l0 40l0 -35l0 -3l0 11l0 22l1 -5l0 -19l0 35l0 -43l0 -8l0 39l0 -2l0 -24l1 -1l0 2l0 14l0 1l0 -5l0 -10l0 1l0 8l1 -18l0 -2l0 9l0 28l0 -9l0 -6l0 -9l0 -11l1 25l0 -24l0 32l0 -20l0 10l0 -15l0 -7l0 21l1 -6l0 -21l0 11l0 29l0 32l0 -43l0 -10l1 0l0 47l0 -29l0 2l0 -16l0 -5l0 7l0 -9l1 9l0 -4l0 -17l0 8l0 17l0 -2l0 -19l0 15l1 8l0 -14l0 22l0 -20l0 10l0 -11l0 -24l0 25l1 17l0 8l0 -23l0 5l0 14l0 -10l0 -18l1 25l0 -12l0 -9l0 16l0 -59l0 129l0 -65l0 -28l1 19l0 4l0 2l0 -17l0 14l0 -2l0 17l0 -5l1 -13l0 13l0 -12l0 -20l0 12l0 -12l0 24l0 -18l1 13l0 -15l0 24l0 -16l0 -11l0 10l0 -1l1 8l0 27l0 -20l0 -1l0 -22l0 10l0 15l0 -25l1 7l0 26l0 -38l0 12l0 -32l0 23l0 34l0 -35l1 12l0 8l0 -9l0 -5l0 13l0 8l0 -20l0 3l1 20l0 -32l0 20l0 -28l0 6l0 21l0 -13l0 24l1 -16l0 27l0 -10l0 -13l0 -9l0 -3l0 -4l1 2l0 19l0 -5l0 7l0 -9l0 24l0 -13l0 -29l1 17l0 11l0 -18l0 -4l0 14l0 4l0 8l0 -13l1 -2l0 2l0 -19l0 19l0 -32l0 15l0 6l0 37l1 -4l0 -9l0 -3l0 -23l0 -8l0 15l0 36l1 -24l0 -2l0 2l0 -27l0 15l0 -3l0 8l0 -11l1 14l0 15l0 -17l0 9l0 11l0 -47l0 35l0 -4l1 -28l0 32l0 2l0 -9l0 -11l0 27l0 -13l0 -20l1 -5l0 31l0 13l0 -21l0 1l0 -17l0 3l1 11l0 11l0 -15l0 15l0 2l0 -12l0 -27l0 3l1 4l0 40l0 -29l0 18l0 -16l0 -5l0 2l0 18l1 4l0 -22l0 -7l0 26l0 2l0 -10l0 5l0 -19l1 -2l0 3l0 19l0 4l0 -8l0 -6l0 -9l0 -19l1 34l0 -12l0 -2l0 11l0 12l0 -19l0 -7l1 22l0 4l0 -19l0 4l0 5l0 -1l0 5l0 1l1 -12l0 4l0 -2l0 17l0 -18l0 -18l0 34l0 -15l1 2l0 -4l0 -6l0 17l0 -19l0 3l0 34l0 -34l1 -7l0 -3l0 21l0 -14l0 11l0 10l0 -41l1 17l0 4l0 13l0 -6l0 8l0 -30l0 32l0 -8l1 -11l0 13l0 -13l0 8l0 5l0 -1l0 25l0 -37l1 4l0 3l0 2l0 16l0 -14l0 13l0 -4l0 8l1 -11l0 -18l0 8l0 17l0 0l0 -25l0 17l1 -15l0 -10l0 8l0 27l0 16l0 -50l0 38l0 1l1 -11l0 -3l0 -12l0 16l0 3l0 -22l0 23l0 -47l1 53l0 -19l0 -14l0 14l0 22l0 -21l0 -14l0 23l1 12l0 -21l0 27l0 -34l0 -3l0 8l0 17l0 -29l1 -4l0 2l0 21l0 -12l0 45l0 -54l0 19l1 12l0 -13l0 -10l0 9l0 1l0 10l0 -13l0 2l1 -2l0 3l0 -1l0 9l0 -34l0 45l0 -24l0 -12l1 37l0 0l0 -32l0 -23l0 19l0 19l0 2l0 1l1 9l0 -9l0 -19l0 15l0 -9l0 -17l0 31l1 -4l0 -7l0 13l0 -12l0 -7l0 8l0 22l0 -25l1 6l0 -2l0 14l0 -16l0 3l0 6l0 2l0 -8l1 23l0 26l0 -44l0 -20l0 37l0 -29l0 2l0 0l1 9l0 -18l0 19l0 -13l0 7l0 3l0 6l1 -1l0 -1l0 -12l0 12l0 6l0 -21l0 6l0 4l1 -3l0 -21l0 12l0 6l0 -3l0 -6l0 11l0 -8l1 12l0 -22l0 22l0 39l0 -50l0 13l0 -2l0 -11l1 44l0 -12l0 -7l0 1l0 -25l0 1l0 12l0 -16l1 35l0 -23l0 -13l0 -6l0 10l0 -12l0 14l1 7l0 -10l0 -23l0 93l0 -67l0 -1l0 12l0 13l1 -12l0 -9l0 12l0 -7l0 13l0 -14l0 -14l0 12l1 -10l0 13l0 8l0 -12l0 24l0 -13l0 -5l0 3l1 -12l0 13l0 -20l0 1l0 9l0 10l0 6l1 -22l0 11l0 -37l0 23l0 -7l0 29l0 -10l0 5l1 24l0 -33l0 8l0 -1l0 -9l0 -8l0 6l0 -15l1 30l0 -18l0 20l0 -7l0 -17l0 7l0 4l0 0l1 -6l0 -7l0 8l0 13l0 -16l0 11l0 -4l1 2l0 -10l0 9l0 7l0 14l0 -2l0 -21l0 13l1 -19l0 10l0 -3l0 4l0 -32l0 20l0 5l0 -2l1 39l0 -19l0 -26l0 26l0 -1l0 16l0 -10l0 -23l1 9l0 -16l0 17l0 -6l0 -4l0 -13l0 26l0 2l1 -49l0 41l0 -13l0 12l0 8l0 7l0 -4l1 -15l0 4l0 -17l0 20l0 4l0 -25l0 6l0 77l1 -47l0 -16l0 -4l0 0l0 35l0 -32l0 0l0 -15l1 18l0 -4l0 4l0 12l0 -24l0 11l0 11l0 -34l1 -3l0 43l0 -1l0 -7l0 2l0 4l0 -2l1 -10l0 -11l0 -5l0 14l0 11l0 -22l0 -1l0 21l1 -17l0 21l0 -6l0 -11l0 5l0 -20l0 19l0 -6l1 -13l0 39l0 -32l0 -8l0 21l0 -20l0 33l0 -4l1 7l0 -43l0 36l0 -20l0 -37l0 31l0 34l1 -9l0 28l0 -20l0 -34l0 36l0 -45l0 -10l0 37l1 18l0 -15l0 -10l0 35l0 -21l0 -13l0 -28l0 60l1 -28l0 -3l0 -16l0 13l0 -12l0 8l0 107l0 -142l1 33l0 7l0 120l0 -142l0 24l0 -8l0 108l0 -96l1 23l0 0l0 -54l0 105l0 -65l0 3l0 -1l1 -6l0 -5l0 -26l0 18l0 95l0 -27l0 -59l0 28l1 61l0 -96l0 33l0 52l0 -67l0 -33l0 -1l0 46l1 -39l0 13l0 -9l0 18l0 -29l0 4l0 17l0 25l1 13l0 -55l0 13l0 27l0 -8l0 -59l0 61l1 -24l0 -15l0 5l0 11l0 -3l0 27l0 -27l0 9l1 17l0 1l0 -40l0 3l0 -26l0 50l0 27l0 -67l1 23l0 -18l0 40l0 -5l0 -31l0 38l0 -12l0 -1l1 -15l0 -3l0 30l0 -28l0 19l0 -2l0 -67l1 50l0 17l0 -10l0 21l0 11l0 -6l0 -22l0 2l1 -1l0 25l0 -9l0 -14l0 -11l0 3l0 14l0 7l1 13l0 -16l0 -28l0 23l0 5l0 -14l0 -40l0 53l1 8l0 23l0 -5l0 -40l0 1l0 15l0 -16l0 -3l1 22l0 -17l0 -10l0 39l0 -22l0 -4l0 31l1 -70l0 23l0 37l0 4l0 -23l0 -20l0 27l0 -43l1 53l0 -17l0 5l0 22l0 -24l0 -4l0 18l0 -10l1 -24l0 2l0 6l0 -4l0 -10l0 25l0 9l0 -14l1 -1l0 14l0 -15l0 84l0 -18l0 -141l0 181l1 5l0 -7l0 -15l0 -173l0 8l0 99l0 -33l0 77l1 -45l0 -17l0 -17l0 15l0 -75l0 91l0 52l0 -41l1 -36l0 -37l0 -29l0 153l0 -53l0 -8l0 1l0 -21l1 -18l0 22l0 5l0 -15l0 24l0 -10l0 -19l1 -5l0 26l0 0l0 2l0 -13l0 -20l0 24l0 20l1 -37l0 0l0 -1l0 5l0 20l0 11l0 -26l0 14l1 -7l0 -20l0 8l0 42l0 -4l0 -12l0 -10l0 -7l1 19l0 -33l0 24l0 -17l0 -15l0 9l0 23l0 -17l1 4l0 -5l0 51l0 -20l0 -8l0 -28l0 15l1 5l0 22l0 -1l0 -29l0 24l0 -34l0 31l0 -18l1 -9l0 3l0 10l0 -36l0 37l0 -9l0 13l0 -23l1 -3l0 0l0 15l0 -11l0 33l0 -11l0 -17l0 47l1 -9l0 -39l0 9l0 8l0 -1l0 -29l0 17l1 14l0 18l0 -26l0 21l0 -16l0 10l0 -34l0 33l1 -11l0 -24l0 60l0 -28l0 18l0 -53l0 19l0 8l1 -4l0 -10l0 3l0 8l0 -14l0 9l0 -26l0 51l1 -13l0 -18l0 -1l0 22l0 -30l0 6l0 -13l1 33l0 -25l0 22l0 -8l0 -6l0 19l0 -1l0 -35l1 45l0 -25l0 -13l0 -3l0 28l0 25l0 -46l0 27l1 -9l0 13l0 11l0 -13l0 -6l0 25l0 -53l0 28l1 -31l0 8l0 28l0 -9l0 7l0 -7l0 -2l0 -4l1 -1l0 4l0 13l0 16l0 -30l0 7l0 -14l1 21l0 -14l0 20l0 -22l0 10l0 -11l0 -36l0 29l1 16l0 -7l0 4l0 1l0 -1l0 1l0 0l0 -17l1 1l0 -13l0 21l0 0l0 -31l0 62l0 -27l0 -4l1 -3l0 21l0 -4l0 17l0 -15l0 23l0 -44l1 16l0 13l0 -39l0 23l0 16l0 -24l0 16l0 23l1 -32l0 -24l0 53l0 -21l0 -18l0 6l0 -10l0 19l1 -25l0 21l0 1l0 -8l0 12l0 0l0 53l0 -45l1 -1l0 10l0 -31l0 4l0 37l0 17l0 -50l1 17l0 -23l0 -67l0 72l0 17l0 -18l0 1l0 -67l1 44l0 85l0 -61l0 -77l0 74l0 39l0 -34l0 67l1 -68l0 19l0 6l0 4l0 -55l0 14l0 -10l0 27l1 7l0 14l0 -32l0 29l0 -10l0 -32l0 -5l0 28l1 -18l0 12l0 -6l0 29l0 -26l0 1l0 -2l1 0l0 4l0 -7l0 -1l0 26l0 -2l0 -16l0 9l1 4l0 -2l0 0l0 -22l0 24l0 -17l0 -3l0 -27l1 20l0 31l0 4l0 -21l0 -6l0 18l0 -26l0 46l1 3l0 -21l0 -22l0 -5l0 13l0 -22l0 16l1 10l0 -27l0 19l0 18l0 -18l0 23l0 -9l0 -5l1 25l0 -49l0 1l0 -16l0 33l0 -9l0 12l0 -4l1 -14l0 24l0 -7l0 -29l0 34l0 59l0 5l0 -85l1 29l0 -60l0 57l0 -38l0 8l0 15l0 -13l1 -25l0 56l0 60l0 -94l0 45l0 -72l0 53l0 0l1 -7l0 76l0 -97l0 32l0 -14l0 23l0 -6l0 17l1 -52l0 28l0 -6l0 68l0 -99l0 42l0 -14l0 15l1 -25l0 7l0 -11l0 1l0 34l0 -7l0 -14l0 19l1 -14l0 -11l0 -3l0 20l0 -8l0 8l0 12l1 -36l0 -13l0 32l0 -30l0 1l0 36l0 -4l0 3l1 -24l0 -6l0 22l0 24l0 -26l0 -19l0 14l0 6l1 27l0 -37l0 16l0 -6l0 -2l0 10l0 8l0 -17l1 -7l0 -19l0 32l0 12l0 26l0 -17l0 -13l1 -9l0 -5l0 -22l0 23l0 -23l0 19l0 16l0 -15l1 30l0 -17l0 -19l0 22l0 -7l0 15l0 -21l0 28l1 -22l0 -18l0 21l0 -23l0 8l0 -4l0 22l0 -11l1 16l0 -5l0 -4l0 -16l0 -17l0 47l0 -46l1 62l0 -4l0 -61l0 8l0 16l0 0l0 3l0 36l1 -47l0 19l0 27l0 -43l0 -3l0 -10l0 4l0 22l1 -16l0 12l0 -3l0 -28l0 35l0 35l0 -32l0 17l1 -8l0 -40l0 16l0 20l0 -10l0 -19l0 86l0 -97l1 43l0 -20l0 2l0 17l0 -20l0 -6l0 -8l1 52l0 -35l0 -8l0 -9l0 13l0 5l0 12l0 -34l1 99l0 -100l0 22l0 -3l0 18l0 9l0 -26l0 7l1 -24l0 43l0 0l0 -39l0 32l0 3l0 16l0 -18l1 -28l0 -2l0 45l0 -35l0 21l0 -4l0 -21l1 12l0 7l0 -19l0 0l0 4l0 -8l0 22l0 6l1 -1l0 -14l0 13l0 -16l0 6l0 -27l0 40l0 -35l1 8l0 -26l0 47l0 13l0 -14l0 -3l0 -11l0 -10l1 -9l0 29l0 6l0 19l0 -48l0 8l0 -1l1 -5l0 15l0 -9l0 -23l0 23l0 19l0 -4l0 -2l1 -9l0 -5l0 35l0 -13l0 -5l0 10l0 16l0 -13l1 -36l0 38l0 -47l0 25l0 -2l0 -27l0 -2l0 51l1 -36l0 7l0 21l0 -6l0 10l0 -42l0 -16l1 36l0 19l0 -10l0 13l0 -33l0 -35l0 57l0 -66l1 87l0 -26l0 32l0 27l0 4l0 -79l0 12l0 -5l1 3l0 39l0 31l0 -57l0 -8l0 -79l0 84l0 -25l1 28l0 -68l0 73l0 -1l0 -33l0 -51l0 67l0 -6l1 8l0 24l0 -59l0 30l0 -7l0 -3l0 20l1 2l0 12l0 -13l0 1l0 27l0 -34l0 24l0 -16l1 -40l0 9l0 51l0 -27l0 -2l0 -20l0 -7l0 32l1 9l0 -15l0 -2l0 38l0 -34l0 11l0 -33l0 16l1 6l0 -9l0 16l0 -5l0 -3l0 34l0 -43l1 -2l0 4l0 -5l0 36l0 -22l0 6l0 1l0 16l1 -5l0 -12l0 15l0 -12l0 13l0 -26l0 -25l0 26l1 8l0 21l0 -11l0 -22l0 8l0 7l0 26l0 -12l1 -24l0 22l0 -29l0 -15l0 44l0 -45l0 70l1 -34l0 17l0 -18l0 -62l0 35l0 15l0 10l0 -8l1 24l0 -18l0 -15l0 8l0 -6l0 18l0 -17l0 12l1 13l0 10l0 -8l0 -2l0 -7l0 -10l0 15l0 6l1 -25l0 -2l0 0l0 1l0 16l0 -16l0 -1l0 -8l1 20l0 13l0 -34l0 19l0 -65l0 141l0 4l1 -98l0 -61l0 11l0 49l0 95l0 -78l0 11l0 -16l1 2l0 -8l0 100l0 -109l0 -10l0 21l0 15l0 -26l1 -1l0 32l0 -10l0 70l0 20l0 -90l0 -16l0 -60l1 25l0 -7l0 80l0 43l0 -77l0 27l0 -22l1 13l0 -19l0 33l0 -54l0 48l0 -5l0 9l0 -41l1 15l0 5l0 -23l0 43l0 -4l0 -19l0 17l0 -8l1 -2l0 2l0 -9l0 22l0 -35l0 17l0 12l0 -3l1 -13l0 6l0 -10l0 -15l0 23l0 26l0 -31l1 3l0 0l0 5l0 23l0 -100l0 72l0 5l0 -28l1 -2l0 58l0 -62l0 50l0 -11l0 -52l0 19l0 10l1 32l0 -19l0 -6l0 23l0 -19l0 26l0 -44l0 23l1 13l0 -36l0 8l0 -10l0 46l0 -12l0 -8l0 24l1 -28l0 80l0 -74l0 -2l0 23l0 -34l0 -13l1 44l0 57l0 -79l0 19l0 -4l0 -8l0 15l0 5l1 -42l0 32l0 -30l0 27l0 -24l0 87l0 -52l0 61l1 -83l0 9l0 -46l0 6l0 47l0 47l0 -59l0 7l1 -21l0 -5l0 -5l0 37l0 -28l0 -11l0 53l1 -28l0 8l0 -25l0 35l0 -22l0 2l0 9l0 -12l1 25l0 -6l0 -4l0 -28l0 -9l0 26l0 3l0 19l1 -3l0 -26l0 -14l0 24l0 4l0 -1l0 -20l0 -10l1 20l0 22l0 -26l0 13l0 -8l0 -19l0 10l1 33l0 -57l0 -15l0 70l0 -16l0 -17l0 -11l0 50l1 -56l0 7l0 9l0 3l0 38l0 -33l0 15l0 -47l1 41l0 13l0 -53l0 -8l0 66l0 -29l0 22l0 -30l1 27l0 -22l0 16l0 -19l0 40l0 -37l0 4l0 -4l1 4l0 -19l0 2l0 30l0 -10l0 -26l0 35l1 -37l0 44l0 -30l0 -12l0 15l0 -7l0 35l0 -10l1 7l0 -37l0 25l0 11l0 -12l0 -19l0 68l0 -62l1 10l0 5l0 -9l0 17l0 5l0 7l0 -28l0 29l1 -14l0 3l0 -27l0 56l0 -36l0 -5l0 -4l1 4l0 -14l0 16l0 5l0 -11l0 -2l0 2l0 -3l1 -11l0 -4l0 38l0 -4l0 16l0 -23l0 27l0 -30l1 -9l0 -11l0 23l0 -15l0 6l0 34l0 -7l0 -25l1 -3l0 1l0 -15l0 37l0 -38l0 7l0 29l1 -14l0 -2l0 -31l0 30l0 9l0 0l0 20l0 -33l1 -16l0 1l0 1l0 12l0 -7l0 34l0 -13l0 -5l1 -3l0 8l0 -6l0 -14l0 32l0 -28l0 9l0 -7l1 4l0 -26l0 33l0 -19l0 -1l0 5l0 22l0 -8l1 -7l0 -25l0 18l0 3l0 -9l0 35l0 -27l1 50l0 -34l0 -10l0 24l0 12l0 -13l0 -26l0 0l1 1l0 7l0 -17l0 7l0 16l0 -8l0 -28l0 75l1 -31l0 3l0 -46l0 45l0 -36l0 9l0 2l0 -4l1 20l0 -4l0 -7l0 -18l0 26l0 13l0 -45l1 6l0 21l0 16l0 -21l0 -6l0 21l0 -2l0 4l1 9l0 -17l0 -15l0 2l0 9l0 18l0 -21l0 -12l1 57l0 -36l0 5l0 -25l0 11l0 -18l0 7l0 -2l1 14l0 17l0 -22l0 9l0 -12l0 11l0 -11l1 17l0 -10l0 -12l0 -6l0 36l0 -21l0 1l0 1l1 0l0 0l0 8l0 -12l0 -13l0 41l0 -41l0 37l1 -13l0 -12l0 -1l0 12l0 -11l0 33l0 -25l0 -12l1 12l0 13l0 -15l0 -20l0 9l0 -4l0 28l0 -11l1 -11l0 13l0 10l0 -3l0 -27l0 68l0 -60l1 12l0 5l0 -17l0 7l0 -15l0 -10l0 18l0 14l1 4l0 13l0 -36l0 23l0 -38l0 37l0 1l0 4l1 -11l0 6l0 47l0 -69l0 8l0 -16l0 77l0 -43l1 -24l0 13l0 -16l0 15l0 -3l0 27l0 -18l1 -10l0 3l0 2l0 -16l0 -1l0 -4l0 19l0 -5l1 -22l0 24l0 10l0 -4l0 -18l0 49l0 -46l0 -2l1 18l0 -18l0 25l0 5l0 7l0 -19l0 -8l0 4l1 20l0 -19l0 -7l0 2l0 -14l0 34l0 -19l1 7l0 -4l0 9l0 -8l0 19l0 -10l0 -21l0 20l1 -3l0 44l0 -31l0 -34l0 27l0 -7l0 14l0 -23l1 5l0 -2l0 17l0 -23l0 24l0 -23l0 15l0 5l1 -20l0 6l0 12l0 -23l0 49l0 -33l0 8l0 3l1 -17l0 4l0 -5l0 -1l0 1l0 -12l0 12l1 5l0 28l0 -22l0 -22l0 10l0 11l0 1l0 -12l1 10l0 16l0 -3l0 -49l0 35l0 -4l0 -2l0 -2l1 -5l0 8l0 6l0 -2l0 -2l0 -23l0 -1l0 13l1 -13l0 30l0 4l0 19l0 -41l0 5l0 22l1 -23l0 11l0 -7l0 -10l0 5l0 9l0 5l0 -19l1 28l0 -19l0 -8l0 -6l0 38l0 -27l0 10l0 0l1 -15l0 9l0 38l0 -20l0 -1l0 -21l0 15l0 2l1 -10l0 -7l0 20l0 -29l0 24l0 -13l0 -18l1 28l0 -8l0 -51l0 43l0 -2l0 11l0 1l0 -2l1 9l0 18l0 -28l0 6l0 -37l0 18l0 33l0 -8l1 -1l0 -14l0 13l0 -13l0 15l0 -1l0 -9l0 1l1 20l0 -25l0 9l0 -28l0 28l0 -7l0 17l0 -20l1 15l0 -10l0 -9l0 30l0 10l0 -25l0 -5l1 -6l0 -10l0 23l0 -1l0 10l0 -21l0 -9l0 16l1 -14l0 21l0 -1l0 -26l0 1l0 17l0 16l0 -18l1 21l0 -25l0 13l0 9l0 -13l0 -29l0 20l0 -1l1 27l0 -28l0 34l0 -15l0 -13l0 -30l0 45l1 -20l0 13l0 26l0 -40l0 -29l0 26l0 25l0 -11l1 -10l0 25l0 -19l0 13l0 -11l0 8l0 -8l0 -6l1 19l0 -38l0 43l0 -26l0 -25l0 8l0 28l0 -12l1 24l0 -22l0 24l0 -37l0 14l0 18l0 -25l1 23l0 -14l0 19l0 -4l0 -27l0 -18l0 4l0 11l1 16l0 -13l0 18l0 -1l0 3l0 -21l0 11l0 31l1 -31l0 -17l0 13l0 22l0 -13l0 1l0 -17l0 6l1 16l0 -22l0 52l0 0l0 -49l0 50l0 -64l0 23l1 3l0 -21l0 -14l0 36l0 -7l0 40l0 -12l1 4l0 -49l0 32l0 -36l0 50l0 -4l0 -20l0 -16l1 36l0 -7l0 -30l0 -14l0 27l0 -1l0 22l0 -10l1 -33l0 -13l0 46l0 36l0 -16l0 20l0 -120l0 112l1 -56l0 27l0 18l0 -62l0 47l0 -41l0 37l1 -6l0 -10l0 -19l0 30l0 -30l0 46l0 -58l0 34l1 5l0 6l0 8l0 -23l0 7l0 31l0 -63l0 49l1 4l0 3l0 -33l0 29l0 -10l0 -35l0 13l0 17l1 19l0 -18l0 -11l0 29l0 -5l0 -25l0 16l1 -33l0 65l0 -27l0 5l0 -21l0 19l0 -31l0 -18l1 36l0 -9l0 19l0 -32l0 37l0 -13l0 -11l0 28l1 -33l0 17l0 -10l0 14l0 -96l0 76l0 9l0 69l1 -137l0 -6l0 172l0 -98l0 -27l0 38l0 -16l0 67l1 -64l0 91l0 -100l0 26l0 68l0 -110l0 -29l1 1l0 -21l0 163l0 -82l0 -82l0 161l0 4l0 7l1 -125l0 49l0 -77l0 -8l0 53l0 77l0 -30l0 -4l1 -37l0 21l0 15l0 -36l0 -3l0 24l0 16l0 -31l1 -5l0 14l0 -61l0 56l0 6l0 -3l0 -14l1 10l0 50l0 -32l0 -15l0 -20l0 29l0 2l0 -20l1 29l0 -32l0 24l0 -16l0 -3l0 -1l0 -13l0 25l1 10l0 -15l0 -40l0 20l0 39l0 5l0 -20l0 23l1 22l0 -104l0 35l0 -48l0 126l0 -106l0 97l1 -37l0 -55l0 -27l0 62l0 -8l0 -58l0 9l0 36l1 26l0 32l0 -37l0 -21l0 6l0 61l0 -20l0 -30l1 1l0 42l0 -82l0 66l0 -25l0 -24l0 32l0 34l1 -19l0 -23l0 -1l0 25l0 2l0 -20l0 -2l0 3l1 3l0 0l0 13l0 23l0 -75l0 46l0 -22l1 32l0 -56l0 42l0 12l0 -29l0 -9l0 -6l0 12l1 6l0 17l0 -10l0 -2l0 19l0 -22l0 43l0 -21l1 -5l0 -9l0 -8l0 28l0 -25l0 33l0 -68l0 50l1 -32l0 18l0 2l0 8l0 -4l0 0l0 6l1 -49l0 29l0 24l0 -3l0 1l0 -6l0 -28l0 16l1 19l0 31l0 -73l0 11l0 22l0 -8l0 15l0 5l1 -60l0 92l0 -39l0 -17l0 1l0 9l0 6l0 -11l1 27l0 0l0 -32l0 26l0 -28l0 -9l0 -5l1 5l0 41l0 -20l0 1l0 -20l0 -28l0 22l0 23l1 -23l0 23l0 1l0 -56l0 88l0 -60l0 1l0 -29l1 13l0 12l0 46l0 -27l0 -4l0 66l0 1l0 7l1 -52l0 22l0 -23l0 -13l0 11l0 20l0 -65l0 -18l1 122l0 -70l0 20l0 1l0 -1l0 -8l0 -47l1 51l0 5l0 11l0 -26l0 -7l0 27l0 -7l0 -16l1 19l0 4l0 -25l0 -15l0 31l0 32l0 -47l0 38l1 -65l0 30l0 -7l0 7l0 -14l0 6l0 5l0 4l1 34l0 -42l0 18l0 -11l0 -13l0 34l0 -1l1 -30l0 -20l0 45l0 -1l0 -20l0 17l0 -9l0 -22l1 15l0 1l0 10l0 7l0 21l0 -24l0 -25l0 -15l1 46l0 -11l0 -9l0 4l0 13l0 38l0 -37l0 5l1 -7l0 -3l0 10l0 -18l0 17l0 15l0 -34l1 8l0 -7l0 -13l0 48l0 -24l0 19l0 -28l0 29l1 25l0 -75l0 46l0 -10l0 -18l0 -10l0 14l0 10l1 -44l0 43l0 11l0 -22l0 17l0 -18l0 23l0 -25l1 39l0 -34l0 -10l0 9l0 5l0 -44l0 42l0 16l1 -16l0 -25l0 35l0 23l0 -26l0 18l0 -19l1 25l0 -59l0 30l0 -13l0 12l0 -15l0 20l0 4l1 9l0 -6l0 -28l0 -3l0 29l0 20l0 -47l0 34l1 -3l0 -8l0 -24l0 11l0 13l0 23l0 -29l0 -18l1 15l0 -10l0 11l0 6l0 1l0 -5l0 -46l1 41l0 6l0 -2l0 23l0 -28l0 -10l0 0l0 10l1 42l0 -52l0 10l0 -21l0 69l0 -57l0 56l0 -43l1 25l0 -40l0 54l0 -51l0 43l0 -21l0 3l0 -21l1 17l0 -9l0 14l0 -4l0 6l0 -21l0 18l1 6l0 -29l0 4l0 -20l0 29l0 -15l0 24l0 -27l1 -9l0 1l0 54l0 -9l0 13l0 -51l0 -3l0 -19l1 54l0 -4l0 5l0 -5l0 3l0 -26l0 -21l0 36l1 -16l0 -12l0 2l0 27l0 -12l0 -13l0 3l0 -4l1 33l0 -11l0 -14l0 17l0 -35l0 -7l0 52l1 -3l0 -9l0 -6l0 -12l0 -12l0 41l0 -11l0 -13l1 21l0 -17l0 29l0 -26l0 7l0 -9l0 24l0 -5l1 -6l0 15l0 8l0 -12l0 -25l0 12l0 -7l0 4l1 -26l0 32l0 -5l0 -14l0 11l0 -3l0 -3l1 21l0 3l0 -8l0 -22l0 -23l0 51l0 -20l0 34l1 -27l0 -6l0 3l0 19l0 -12l0 -28l0 20l0 11l1 -11l0 13l0 -5l0 -2l0 -3l0 4l0 -12l0 27l1 -4l0 -28l0 19l0 -4l0 -14l0 18l0 9l1 -17l0 2l0 12l0 -13l0 -14l0 -20l0 21l0 22l1 -3l0 -9l0 -7l0 8l0 -5l0 26l0 -1l0 -3l1 -10l0 9l0 2l0 -25l0 12l0 16l0 -36l0 0l1 1l0 48l0 -14l0 -2l0 -13l0 43l0 -52l0 16l1 -24l0 -14l0 27l0 -14l0 14l0 37l0 -27l1 -4l0 -12l0 -4l0 19l0 7l0 -2l0 -10l0 2l1 -6l0 -12l0 29l0 -42l0 32l0 -23l0 17l0 -8l1 18l0 -22l0 13l0 19l0 -16l0 9l0 -21l0 16l1 -19l0 1l0 2l0 16l0 -23l0 17l0 1l1 -17l0 21l0 -24l0 6l0 2l0 10l0 7l0 -14l1 22l0 -20l0 17l0 -29l0 15l0 -13l0 28l0 -14l1 9l0 -6l0 45l0 -61l0 25l0 -18l0 -1l0 -12l1 11l0 31l0 -12l0 6l0 1l0 -3l0 -25l1 10l0 -4l0 19l0 -8l0 -15l0 4l0 20l0 -18l1 1l0 -20l0 25l0 32l0 -41l0 -10l0 37l0 -35l1 -3l0 13l0 10l0 -8l0 5l0 -8l0 -13l0 -8l1 31l0 -16l0 14l0 17l0 -25l0 -23l0 32l0 -9l1 23l0 -18l0 3l0 -8l0 3l0 3l0 -14l1 20l0 6l0 -30l0 7l0 21l0 4l0 -1l0 -47l1 21l0 7l0 -7l0 2l0 -25l0 25l0 1l0 11l1 -17l0 8l0 2l0 40l0 -34l0 10l0 -23l0 38l1 -19l0 7l0 -16l0 -2l0 -4l0 14l0 -3l1 12l0 -19l0 11l0 -25l0 -13l0 51l0 -21l0 17l1 -1l0 -19l0 -4l0 10l0 -15l0 11l0 8l0 -34l1 18l0 8l0 -11l0 14l0 -1l0 -17l0 37l0 -5l1 -19l0 20l0 -39l0 22l0 -14l0 12l0 8l1 -4l0 -15l0 16l0 24l0 -47l0 23l0 0l0 -1l1 11l0 23l0 -57l0 30l0 -12l0 1l0 8l0 4l1 -33l0 17l0 46l0 -25l0 -7l0 -9l0 16l0 -4l1 3l0 -52l0 33l0 7l0 2l0 -9l0 -34l0 76l1 -23l0 -10l0 -8l0 35l0 -25l0 -23l0 18l1 -3l0 -11l0 4l0 19l0 -13l0 13l0 -17l0 -3l1 -4l0 8l0 42l0 -35l0 10l0 -26l0 -1l0 12l1 11l0 -14l0 -5l0 -4l0 1l0 18l0 -6l0 2l1 -16l0 37l0 -1l0 -35l0 0l0 6l0 -19l1 15l0 14l0 8l0 -17l0 24l0 -20l0 8l0 -5l1 -23l0 43l0 -23l0 -12l0 4l0 7l0 18l0 -31l1 77l0 -86l0 27l0 -13l0 1l0 19l0 -6l0 -16l1 21l0 -17l0 15l0 -13l0 7l0 -1l0 -15l1 30l0 1l0 13l0 -67l0 47l0 -21l0 6l0 16l1 4l0 -39l0 39l0 3l0 -19l0 -3l0 3l0 19l1 -15l0 -10l0 21l0 -32l0 29l0 -13l0 3l0 8l1 -19l0 33l0 -18l0 16l0 -47l0 55l0 -34l0 18l1 -21l0 18l0 39l0 -42l0 2l0 3l0 -2l1 14l0 -22l0 47l0 -43l0 6l0 -3l0 7l0 -7l1 -3l0 -4l0 -17l0 24l0 -15l0 -2l0 1l0 14l1 -30l0 51l0 -16l0 -12l0 13l0 -11l0 -6l0 9l1 4l0 -11l0 11l0 3l0 16l0 -32l0 -15l1 37l0 -5l0 -26l0 34l0 -3l0 -20l0 6l0 -8l1 28l0 -30l0 20l0 -25l0 4l0 19l0 -23l0 18l1 11l0 -8l0 13l0 -15l0 10l0 -30l0 31l0 -32l1 7l0 33l0 -21l0 2l0 5l0 -6l0 -30l1 29l0 15l0 -4l0 -6l0 -38l0 38l0 -27l0 40l1 -50l0 36l0 0l0 -9l0 -2l0 8l0 16l0 -21l1 3l0 -10l0 22l0 14l0 -31l0 21l0 -28l0 25l1 -4l0 -6l0 -8l0 -27l0 34l0 -10l0 1l0 10l1 17l0 -21l0 28l0 -33l0 25l0 -24l0 -10l1 24l0 -18l0 -8l0 31l0 14l0 -20l0 -13l0 18l1 -14l0 -3l0 -7l0 -6l0 11l0 17l0 -8l0 18l1 -31l0 -19l0 47l0 -26l0 -3l0 -31l0 13l0 33l1 -19l0 3l0 35l0 -26l0 5l0 -26l0 26l1 -10l0 -14l0 7l0 31l0 -17l0 -5l0 -2l0 10l1 -17l0 24l0 -4l0 -26l0 24l0 15l0 -39l0 37l1 -8l0 -13l0 -7l0 0l0 -17l0 27l0 -8l0 8l1 5l0 3l0 -39l0 19l0 9l0 -13l0 9l1 -1l0 5l0 -5l0 6l0 20l0 -21l0 -5l0 8l1 3l0 -6l0 4l0 15l0 -15l0 9l0 3l0 -18l1 2l0 -40l0 47l0 -10l0 5l0 -7l0 19l0 -23l1 22l0 18l0 -27l0 20l0 -34l0 30l0 -18l0 24l1 -28l0 -14l0 31l0 -28l0 19l0 13l0 -12l1 7l0 -59l0 41l0 -16l0 34l0 -9l0 7l0 2l1 -6l0 -12l0 -2l0 -5l0 19l0 -3l0 4l0 41l1 -47l0 0l0 8l0 -10l0 -12l0 31l0 -22l0 14l1 -6l0 0l0 1l0 -24l0 22l0 2l0 11l1 -37l0 16l0 6l0 12l0 -7l0 -27l0 34l0 2l1 -33l0 33l0 -23l0 -17l0 43l0 -3l0 -31l0 -1l1 -9l0 24l0 1l0 18l0 -12l0 -3l0 -5l0 16l1 -8l0 -17l0 -9l0 14l0 -3l0 -10l0 48l1 -53l0 27l0 22l0 -27l0 -6l0 18l0 -24l0 4l1 -20l0 33l0 -1l0 7l0 8l0 -20l0 -25l0 39l1 3l0 -14l0 12l0 -17l0 11l0 3l0 0l0 -8l1 -19l0 47l0 -53l0 21l0 -15l0 8l0 4l0 20l1 0l0 -23l0 3l0 -20l0 36l0 1l0 27l1 -63l0 37l0 11l0 -30l0 -1l0 22l0 -2l0 -7l1 -24l0 32l0 -10l0 -14l0 12l0 7l0 -7l0 -17l1 19l0 -14l0 27l0 -9l0 4l0 -23l0 30l0 8l1 -30l0 -9l0 -14l0 52l0 -5l0 -35l0 9l1 15l0 -10l0 -12l0 7l0 33l0 -24l0 -3l0 -13l1 -2l0 16l0 -6l0 13l0 7l0 -16l0 34l0 -2l1 -9l0 -28l0 7l0 3l0 -23l0 16l0 10l0 -21l1 17l0 22l0 -14l0 -1l0 -11l0 -29l0 26l1 7l0 3l0 1l0 -2l0 3l0 15l0 -9l0 -19l1 23l0 -34l0 14l0 7l0 19l0 -19l0 2l0 -12l1 -9l0 2l0 5l0 -3l0 -12l0 15l0 1l0 16l1 -9l0 -7l0 32l0 -50l0 28l0 -11l0 40l0 -32l1 17l0 -14l0 14l0 -1l0 9l0 -41l0 28l1 6l0 -21l0 7l0 -24l0 23l0 -10l0 10l0 8l1 -6l0 7l0 -30l0 -11l0 36l0 8l0 -16l0 1l1 -40l0 49l0 -5l0 -3l0 3l0 -8l0 -1l0 0l1 31l0 -32l0 5l0 29l0 -28l0 11l0 -8l1 15l0 -27l0 1l0 -4l0 51l0 -45l0 0l0 -10l1 17l0 -12l0 29l0 -28l0 14l0 -25l0 15l0 19l1 -18l0 12l0 -22l0 -6l0 24l0 -2l0 16l0 -17l1 4l0 -4l0 -14l0 32l0 -16l0 -21l0 23l1 2l0 -8l0 -13l0 15l0 -15l0 30l0 -32l0 22l1 -13l0 -5l0 4l0 -17l0 24l0 9l0 -29l0 13l1 -21l0 30l0 19l0 -20l0 27l0 -36l0 10l0 33l1 -30l0 11l0 13l0 -13l0 -1l0 -13l0 15l0 -31l1 -13l0 23l0 19l0 -11l0 -1l0 13l0 -43l1 13l0 29l0 -24l0 16l0 10l0 -10l0 -16l0 14l1 7l0 -20l0 26l0 -17l0 -10l0 -2l0 -11l0 16l1 40l0 -36l0 25l0 -14l0 5l0 -17l0 7l0 6l1 -7l0 22l0 -8l0 -22l0 -16l0 33l0 -26l1 21l0 -20l0 33l0 -20l0 -12l0 32l0 -16l0 13l1 -9l0 -9l0 9l0 5l0 -11l0 12l0 -5l0 5l1 50l0 -49l0 2l0 -45l0 48l0 -21l0 -8l0 15l1 15l0 5l0 -15l0 -1l0 -6l0 1l0 -8l1 18l0 -37l0 93l0 -62l0 -2l0 -36l0 63l0 -45l1 -32l0 32l0 -18l0 33l0 3l0 -19l0 14l0 5l1 8l0 -17l0 11l0 -9l0 -1l0 4l0 2l0 4l1 -4l0 18l0 11l0 -27l0 -12l0 15l0 4l1 -10l0 14l0 0l0 -8l0 -7l0 2l0 -18l0 22l1 16l0 -6l0 -45l0 33l0 14l0 -66l0 42l0 18l1 -26l0 17l0 11l0 -5l0 2l0 -23l0 22l0 -25l1 11l0 6l0 -8l0 10l0 3l0 12l0 -31l0 -21l1 48l0 -14l0 -25l0 -2l0 4l0 24l0 -20l1 17l0 15l0 -18l0 -2l0 -14l0 28l0 4l0 -16l1 -4l0 -15l0 18l0 12l0 -7l0 -39l0 66l0 -26l1 -24l0 21l0 15l0 -5l0 -18l0 24l0 -17l0 3l1 -9l0 -2l0 0l0 8l0 -7l0 11l0 12l1 -11l0 -9l0 -6l0 28l0 -10l0 9l0 0l0 -17l1 31l0 -8l0 -23l0 0l0 25l0 20l0 -42l0 -10l1 -4l0 16l0 -2l0 -6l0 -14l0 13l0 29l0 -37l1 8l0 17l0 -9l0 7l0 -13l0 -12l0 21l1 -7l0 21l0 -16l0 -14l0 23l0 -7l0 -15l0 -5l1 33l0 -15l0 -20l0 13l0 16l0 -16l0 12l0 -25l1 29l0 4l0 -16l0 2l0 0l0 11l0 -22l0 13l1 13l0 -57l0 34l0 14l0 -19l0 25l0 -29l0 -3l1 9l0 -3l0 -2l0 -13l0 -21l0 80l0 -41l1 10l0 -25l0 21l0 -4l0 12l0 -21l0 5l0 9l1 -23l0 -3l0 20l0 7l0 10l0 -40l0 42l0 -17l1 16l0 1l0 0l0 -32l0 27l0 18l0 -9l0 5l1 -13l0 1l0 -28l0 34l0 3l0 -19l0 -23l1 31l0 5l0 -29l0 42l0 -23l0 6l0 -15l0 3l1 8l0 3l0 -6l0 6l0 3l0 -8l0 -2l0 -21l1 17l0 19l0 -16l0 12l0 -33l0 19l0 14l0 4l1 -22l0 21l0 5l0 -15l0 10l0 -11l0 -5l1 -20l0 5l0 37l0 -8l0 -17l0 20l0 -6l0 1l1 9l0 11l0 -39l0 11l0 12l0 -15l0 7l0 -14l1 16l0 -12l0 39l0 -59l0 17l0 18l0 8l0 15l1 -24l0 3l0 -6l0 1l0 -6l0 27l0 0l0 -38l1 13l0 -18l0 32l0 -10l0 12l0 -53l0 62l1 42l0 1l0 -126l0 86l0 30l0 -27l0 -44l0 91l1 -76l0 13l0 -15l0 2l0 -6l0 18l0 56l0 -56l1 -7l0 -4l0 -56l0 1l0 28l0 6l0 25l0 -22l1 29l0 3l0 -42l0 16l0 -16l0 26l0 5l1 4l0 -34l0 14l0 32l0 -10l0 -2l0 7l0 -33l1 -6l0 12l0 7l0 26l0 -16l0 7l0 -28l0 8l1 14l0 -29l0 -14l0 48l0 12l0 32l0 -64l0 32l1 -8l0 -5l0 -21l0 5l0 22l0 -5l0 3l1 -17l0 -29l0 9l0 8l0 -2l0 -1l0 26l0 0l1 50l0 -58l0 -14l0 70l0 -50l0 -11l0 -6l0 9l1 16l0 -35l0 26l0 3l0 -3l0 -21l0 10l0 -22l1 46l0 -14l0 -8l0 5l0 17l0 -6l0 -7l0 0l1 -5l0 2l0 11l0 8l0 -42l0 -2l0 20l1 -14l0 2l0 0l0 21l0 -10l0 -32l0 56l0 -4l1 -22l0 4l0 -7l0 6l0 -2l0 -2l0 19l0 -4l1 -42l0 26l0 -12l0 25l0 -9l0 -18l0 15l0 -3l1 -5l0 13l0 17l0 1l0 0l0 1l0 10l1 -13l0 -7l0 -33l0 35l0 -13l0 4l0 -1l0 16l1 -25l0 15l0 -23l0 12l0 22l0 -31l0 30l0 7l1 -53l0 20l0 -6l0 20l0 0l0 7l0 -5l0 1l1 13l0 -40l0 32l0 -26l0 29l0 -18l0 15l1 -6l0 -5l0 6l0 -6l0 2l0 15l0 -19l0 -15l1 3l0 15l0 14l0 -8l0 -8l0 2l0 -13l0 -12l1 16l0 -1l0 -2l0 12l0 -5l0 -11l0 3l0 32l1 -20l0 1l0 -7l0 -18l0 1l0 31l0 -32l0 27l1 -20l0 9l0 4l0 11l0 -24l0 4l0 31l1 -40l0 21l0 -10l0 19l0 -10l0 0l0 39l0 -61l1 13l0 10l0 -28l0 5l0 3l0 33l0 -43l0 22l1 -17l0 35l0 -11l0 10l0 -3l0 4l0 1l0 -25l1 14l0 2l0 23l0 -49l0 39l0 -30l0 19l1 -12l0 11l0 54l0 -40l0 -31l0 12l0 17l0 -19l1 -11l0 13l0 -10l0 17l0 21l0 -8l0 -14l0 -8l1 -9l0 -15l0 27l0 -1l0 -10l0 8l0 8l0 -6l1 -21l0 23l0 22l0 -44l0 23l0 -19l0 25l1 21l0 -34l0 26l0 -23l0 0l0 8l0 -29l0 39l1 3l0 -21l0 -8l0 9l0 12l0 -24l0 42l0 -11l1 -13l0 21l0 -25l0 6l0 -4l0 -3l0 -7l0 5l1 2l0 27l0 -22l0 9l0 -4l0 26l0 -20l0 -10l1 -23l0 35l0 7l0 -25l0 -23l0 13l0 15l1 -9l0 15l0 -14l0 8l0 -32l0 39l0 -18l0 1l1 7l0 -4l0 -29l0 50l0 -22l0 -10l0 27l0 49l1 -39l0 -50l0 19l0 16l0 -46l0 42l0 -23l0 30l1 -21l0 0l0 -10l0 12l0 -3l0 4l0 -10l1 8l0 11l0 5l0 0l0 -9l0 12l0 -10l0 10l1 -12l0 2l0 -4l0 -13l0 15l0 25l0 -33l0 37l1 -31l0 4l0 9l0 9l0 -25l0 -5l0 35l0 -16l1 19l0 -3l0 -37l0 15l0 -22l0 42l0 -24l1 -11l0 1l0 -20l0 26l0 0l0 0l0 -4l0 6l1 4l0 3l0 -12l0 15l0 6l0 -25l0 17l0 1l1 -9l0 11l0 6l0 -26l0 -28l0 54l0 -10l0 -10l1 -10l0 7l0 0l0 16l0 -9l0 -12l0 -14l0 16l1 10l0 11l0 -16l0 2l0 14l0 -6l0 9l1 -8l0 12l0 5l0 -32l0 34l0 -3l0 -5l0 -43l1 49l0 -14l0 4l0 -21l0 21l0 -27l0 17l0 -18l1 14l0 5l0 16l0 -9l0 -6l0 2l0 -12l0 9l1 -12l0 13l0 2l0 -16l0 8l0 -7l0 5l1 13l0 -10l0 -3l0 4l0 -18l0 48l0 -31l0 1l1 -11l0 20l0 -11l0 13l0 12l0 -7l0 -32l0 37l1 -24l0 25l0 -30l0 2l0 7l0 9l0 -8l0 -4l1 9l0 24l0 -38l0 9l0 2l0 5l0 41l1 -45l0 3l0 -12l0 3l0 14l0 -18l0 10l0 -6l1 5l0 -9l0 -1l0 2l0 -15l0 6l0 8l0 13l1 -2l0 -5l0 0l0 12l0 4l0 -22l0 6l0 -1l1 26l0 -1l0 -27l0 -10l0 0l0 35l0 -31l0 30l1 -32l0 5l0 38l0 -49l0 1l0 31l0 3l1 -35l0 17l0 20l0 -9l0 -17l0 14l0 -30l0 -15l1 27l0 -5l0 13l0 -7l0 19l0 -27l0 16l0 10l1 -9l0 -16l0 19l0 19l0 -8l0 -30l0 33l0 -3l1 -16l0 -3l0 -2l0 15l0 -9l0 0l0 0l1 -1l0 2l0 0l0 19l0 -5l0 -30l0 18l0 7l1 -20l0 -21l0 0l0 33l0 -5l0 17l0 -25l0 -2l1 21l0 13l0 -8l0 -15l0 24l0 -34l0 15l0 7l1 -8l0 12l0 -23l0 14l0 -12l0 -13l0 25l1 -5l0 34l0 -42l0 4l0 -1l0 15l0 0l0 26l1 -35l0 -24l0 23l0 0l0 -1l0 18l0 -25l0 4l1 13l0 11l0 -11l0 14l0 -22l0 8l0 -31l0 10l1 24l0 -2l0 -2l0 8l0 -27l0 20l0 31l0 -31l1 34l0 -39l0 -12l0 18l0 21l0 -22l0 -22l1 17l0 29l0 -10l0 -20l0 1l0 -7l0 20l0 46l1 -55l0 -30l0 8l0 51l0 -20l0 2l0 -47l0 69l1 -4l0 -19l0 -44l0 16l0 14l0 33l0 2l0 -89l1 62l0 17l0 -17l0 -61l0 17l0 19l0 27l1 -32l0 -13l0 35l0 9l0 -14l0 -7l0 24l0 39l1 -95l0 26l0 35l0 53l0 -93l0 -6l0 36l0 3l1 -5l0 -19l0 74l0 -108l0 54l0 -7l0 19l0 1l1 -25l0 12l0 -7l0 20l0 -48l0 44l0 -27l1 39l0 -7l0 -38l0 -1l0 39l0 -27l0 -4l0 -27l1 40l0 -16l0 13l0 16l0 23l0 -3l0 -59l0 82l1 -51l0 29l0 -36l0 9l0 -40l0 47l0 8l0 -45l1 33l0 -30l0 32l0 40l0 -73l0 27l0 -72l0 58l1 44l0 -27l0 -54l0 46l0 12l0 -10l0 -8l1 16l0 16l0 10l0 -67l0 -49l0 63l0 -26l0 19l1 11l0 48l0 -41l0 -6l0 12l0 6l0 -13l0 2l1 8l0 6l0 10l0 40l0 -73l0 -1l0 -19l0 14l1 -18l0 -2l0 57l0 -23l0 0l0 -4l0 25l1 -80l0 112l0 -36l0 -32l0 61l0 -36l0 -12l0 23l1 -36l0 64l0 -15l0 -81l0 44l0 -2l0 58l0 -35l1 -31l0 46l0 -8l0 -49l0 57l0 -32l0 10l0 26l1 -36l0 37l0 -61l0 -4l0 54l0 -114l0 84l1 -15l0 -8l0 69l0 -40l0 -26l0 42l0 1l0 -17l1 -28l0 3l0 13l0 14l0 26l0 62l0 -45l0 -83l1 24l0 13l0 5l0 86l0 -163l0 12l0 41l0 39l1 68l0 -146l0 35l0 -19l0 38l0 4l0 9l0 -39l1 22l0 22l0 58l0 -130l0 128l0 -71l0 -2l1 76l0 -51l0 -31l0 -48l0 58l0 -8l0 82l0 -46l1 -4l0 -35l0 46l0 -10l0 -40l0 28l0 -26l0 13l1 -6l0 13l0 21l0 10l0 -58l0 6l0 34l0 -70l1 40l0 5l0 -13l0 38l0 -4l0 -2l0 -13l1 -28l0 6l0 43l0 -52l0 -51l0 101l0 -64l0 26l1 29l0 -17l0 66l0 -56l0 -19l0 -19l0 21l0 -2l1 72l0 -58l0 6l0 -73l0 115l0 -28l0 -56l0 65l1 -46l0 43l0 -64l0 82l0 -82l0 15l0 23l1 17l0 -12l0 -9l0 -11l0 -2l0 -7l0 4l0 42l1 -29l0 46l0 -48l0 13l0 -45l0 54l0 1l0 30l1 -1l0 -6l0 -76l0 74l0 -14l0 36l0 -58l0 -14l1 -33l0 26l0 19l0 -14l0 22l0 -68l0 9l0 30l1 54l0 -39l0 -14l0 -12l0 19l0 -2l0 17l1 18l0 -55l0 51l0 -31l0 -9l0 44l0 -35l0 -21l1 19l0 25l0 -15l0 13l0 11l0 -16l0 6l0 10l1 6l0 16l0 -49l0 27l0 -44l0 29l0 -6l0 14l1 -39l0 70l0 -39l0 -12l0 36l0 -13l0 -3l1 -76l0 28l0 18l0 -11l0 -77l0 86l0 19l0 42l1 -7l0 -21l0 -1l0 -26l0 44l0 -53l0 46l0 -20l1 32l0 -36l0 56l0 -49l0 28l0 -89l0 67l0 20l1 -17l0 -85l0 55l0 -33l0 39l0 -59l0 144l1 9l0 -88l0 28l0 57l0 -88l0 113l0 -103l0 -15l1 -5l0 165l0 -154l0 52l0 -59l0 46l0 102l0 -135l1 -67l0 158l0 -2l0 -166l0 123l0 -51l0 21l0 -35l1 23l0 -26l0 9l0 53l0 -40l0 -22l0 -3l0 22l1 49l0 -20l0 -79l0 36l0 -14l0 104l0 -73l1 -11l0 10l0 -20l0 -10l0 13l0 48l0 16l0 -39l1 40l0 -44l0 -46l0 67l0 -46l0 8l0 28l0 -11l1 28l0 -28l0 -19l0 37l0 -17l0 7l0 -34l0 -14l1 56l0 12l0 -41l0 17l0 -12l0 -19l0 22l1 42l0 2l0 -32l0 -1l0 -14l0 3l0 9l0 36l1 -75l0 16l0 26l0 -13l0 18l0 12l0 -9l0 20l1 -19l0 38l0 -59l0 -30l0 17l0 21l0 9l0 30l1 -36l0 -40l0 19l0 62l0 -2l0 -51l0 46l1 5l0 -72l0 75l0 -44l0 -16l0 -17l0 68l0 -37l1 -36l0 86l0 -25l0 -21l0 4l0 3l0 -36l0 27l1 8l0 27l0 -54l0 -6l0 41l0 -62l0 106l0 -68l1 6l0 70l0 -72l0 -72l0 6l0 -17l0 26l0 -15l1 12l0 37l0 20l0 -3l0 10l0 -1l0 -79l1 -7l0 18l0 20l0 57l0 63l0 -162l0 -10l0 83l1 81l0 -46l0 15l0 21l0 -66l0 18l0 12l0 3l1 -74l0 59l0 3l0 -18l0 17l0 -35l0 43l0 16l1 -50l0 15l0 8l0 26l0 -9l0 -31l0 -40l1 23l0 39l0 35l0 -53l0 -5l0 -4l0 8l0 47l1 -58l0 83l0 -96l0 25l0 -23l0 91l0 -69l0 50l1 -74l0 26l0 36l0 -125l0 98l0 -101l0 140l0 -91l1 45l0 72l0 -176l0 108l0 -34l0 -38l0 126l1 -82l0 56l0 -39l0 -31l0 -58l0 66l0 15l0 9l1 -6l0 1l0 81l0 -172l0 133l0 -26l0 36l0 -58l1 0l0 28l0 -12l0 -25l0 7l0 9l0 -20l0 71l1 -29l0 -58l0 57l0 36l0 -47l0 4l0 -15l0 36l1 -39l0 37l0 -42l0 5l0 70l0 -29l0 -45l1 9l0 16l0 6l0 -19l0 -36l0 18l0 -6l0 -23l1 75l0 9l0 -26l0 -24l0 53l0 -28l0 -6l0 -18l1 47l0 -111l0 64l0 -8l0 26l0 -17l0 -40l0 72l1 -10l0 32l0 -19l0 1l0 -23l0 -5l0 12l1 20l0 4l0 -29l0 10l0 22l0 -45l0 -8l0 15l1 15l0 -4l0 13l0 -40l0 48l0 -59l0 27l0 74l1 -2l0 -45l0 -30l0 25l0 11l0 -51l0 8l0 5l1 7l0 4l0 18l0 0l0 0l0 -25l0 6l1 -13l0 35l0 -44l0 13l0 67l0 -55l0 -58l0 58l1 7l0 8l0 -26l0 7l0 -5l0 0l0 37l0 -19l1 -26l0 41l0 -30l0 -15l0 31l0 -29l0 46l0 3l1 6l0 -56l0 29l0 -23l0 46l0 -36l0 15l0 -21l1 10l0 5l0 15l0 -22l0 28l0 -89l0 17l1 -25l0 91l0 -19l0 29l0 -46l0 2l0 -14l0 10l1 62l0 -42l0 -68l0 72l0 -26l0 27l0 -32l0 14l1 6l0 -16l0 30l0 -22l0 8l0 -14l0 19l0 54l1 -48l0 11l0 8l0 -43l0 69l0 -55l0 -10l1 -2l0 -10l0 24l0 22l0 -54l0 52l0 -28l0 10l1 -3l0 -26l0 18l0 12l0 -34l0 12l0 12l0 5l1 -23l0 58l0 -16l0 -50l0 133l0 -178l0 38l0 118l1 -85l0 92l0 -94l0 9l0 76l0 -103l0 101l1 31l0 -71l0 -19l0 11l0 -55l0 -5l0 62l0 64l1 -169l0 61l0 48l0 -19l0 -78l0 41l0 -28l0 39l1 10l0 101l0 -85l0 -73l0 69l0 -23l0 76l0 -74l1 30l0 -35l0 63l0 -54l0 32l0 -131l0 124l0 -74l1 18l0 33l0 20l0 114l0 -84l0 -35l0 -34l1 -13l0 36l0 -29l0 36l0 -5l0 7l0 -15l0 -2l1 -2l0 -31l0 51l0 14l0 -12l0 -32l0 19l0 -10l1 82l0 -74l0 4l0 39l0 -17l0 -46l0 -10l0 63l1 17l0 -42l0 -5l0 76l0 16l0 9l0 -103l1 18l0 41l0 -32l0 -22l0 16l0 -59l0 47l0 2l1 -37l0 17l0 -10l0 24l0 23l0 40l0 -18l0 -41l1 20l0 -19l0 -3l0 70l0 -103l0 21l0 -27l0 -9l1 55l0 -48l0 59l0 -22l0 -75l0 103l0 -21l1 26l0 -57l0 23l0 -68l0 76l0 -7l0 -52l0 96l1 -63l0 56l0 -55l0 50l0 -39l0 41l0 -62l0 18l1 58l0 -18l0 -34l0 32l0 -24l0 10l0 21l0 -31l1 -43l0 17l0 39l0 -30l0 37l0 -30l0 45l0 -54l1 22l0 24l0 -43l0 -37l0 -17l0 56l0 -14l1 9l0 14l0 12l0 -7l0 7l0 -58l0 81l0 -28l1 -15l0 33l0 -44l0 31l0 -45l0 74l0 -111l0 43l1 -15l0 28l0 39l0 -7l0 14l0 22l0 -65l0 31l1 -19l0 -35l0 53l0 -34l0 57l0 -27l0 8l1 -21l0 29l0 -36l0 31l0 -23l0 -1l0 1l0 -35l1 29l0 17l0 5l0 -42l0 46l0 -6l0 -18l0 -6l1 4l0 34l0 -8l0 20l0 4l0 -12l0 -41l0 43l1 8l0 -39l0 0l0 -42l0 20l0 7l0 -28l1 24l0 35l0 4l0 -56l0 -9l0 10l0 -3l0 -13l1 20l0 32l0 -4l0 1l0 4l0 5l0 -6l0 -34l1 -15l0 29l0 33l0 -5l0 -13l0 -4l0 -5l0 3l1 -24l0 17l0 -7l0 11l0 -7l0 22l0 -4l0 -24l1 43l0 -6l0 -36l0 9l0 20l0 4l0 -34l1 24l0 -23l0 12l0 2l0 5l0 8l0 3l0 -2l1 -31l0 9l0 74l0 -54l0 -3l0 19l0 -18l0 -1l1 22l0 -21l0 -6l0 2l0 -13l0 16l0 2l0 -7l1 3l0 -16l0 26l0 -17l0 9l0 17l0 -33l1 5l0 -9l0 36l0 -10l0 -9l0 34l0 -28l0 -10l1 -19l0 19l0 21l0 -23l0 -5l0 37l0 -30l0 -19l1 18l0 6l0 11l0 -1l0 -35l0 25l0 -11l0 -4l1 3l0 10l0 -4l0 25l0 -7l0 -13l0 -15l1 -17l0 37l0 -23l0 7l0 17l0 -4l0 13l0 -27l1 -11l0 26l0 -3l0 -10l0 0l0 21l0 -18l0 10l1 -21l0 7l0 26l0 -17l0 -11l0 10l0 17l0 -33l1 29l0 -3l0 2l0 16l0 -30l0 -3l0 20l0 -21l1 6l0 10l0 -11l0 12l0 -12l0 24l0 -46l1 46l0 -26l0 -11l0 -7l0 28l0 14l0 -28l0 2l1 21l0 -24l0 8l0 -12l0 25l0 3l0 -8l0 -1l1 -9l0 6l0 -2l0 6l0 2l0 3l0 -23l0 25l1 -1l0 -4l0 -1l0 -23l0 40l0 -29l0 2l1 16l0 -16l0 -3l0 -7l0 11l0 14l0 -32l0 20l1 -8l0 7l0 0l0 -1l0 21l0 -30l0 -1l0 4l1 8l0 29l0 -17l0 -10l0 9l0 -15l0 -3l0 12l1 16l0 3l0 -12l0 -21l0 -7l0 18l0 -18l1 4l0 2l0 21l0 13l0 -18l0 0l0 15l0 -27l1 -4l0 14l0 19l0 -32l0 34l0 -21l0 -14l0 15l1 -17l0 8l0 -8l0 -7l0 9l0 13l0 -20l0 28l1 -10l0 14l0 -11l0 16l0 -42l0 17l0 3l0 -2l1 21l0 -16l0 8l0 -9l0 -9l0 15l0 7l1 -13l0 0l0 -1l0 2l0 -14l0 12l0 -2l0 11l1 2l0 -13l0 7l0 23l0 -31l0 8l0 -9l0 2l1 5l0 13l0 -12l0 4l0 -6l0 -6l0 4l0 16l1 5l0 -23l0 27l0 -28l0 2l0 16l0 -4l1 -1l0 -27l0 19l0 19l0 -37l0 26l0 0l0 -15l1 4l0 26l0 -14l0 -12l0 -9l0 16l0 -4l0 -5l1 -10l0 17l0 -4l0 -9l0 14l0 -21l0 9l0 5l1 -16l0 -32l0 26l0 27l0 -56l0 50l0 63l1 -56l0 -45l0 63l0 -22l0 -23l0 87l0 -68l0 6l1 -17l0 93l0 -64l0 -4l0 -15l0 -14l0 47l0 -21l1 -3l0 -2l0 -19l0 79l0 -69l0 27l0 -21l0 9l1 -26l0 14l0 16l0 -8l0 6l0 2l0 -7l0 -3l1 16l0 4l0 -27l0 4l0 4l0 -9l0 15l1 -4l0 -22l0 32l0 -32l0 13l0 -2l0 11l0 -14l1 8l0 16l0 -8l0 2l0 -12l0 6l0 2l0 12l1 -20l0 10l0 3l0 -21l0 9l0 10l0 12l0 -22l1 14l0 -18l0 17l0 -24l0 12l0 24l0 -22l1 41l0 -27l0 -20l0 18l0 -12l0 -8l0 4l0 -10l1 28l0 -8l0 -7l0 -4l0 24l0 -23l0 7l0 4l1 -10l0 11l0 -4l0 -12l0 35l0 -15l0 14l0 -37l1 12l0 -15l0 49l0 -10l0 -11l0 -13l0 -1l1 -5l0 1l0 25l0 -5l0 0l0 -30l0 2l0 7l1 12l0 -8l0 1l0 -31l0 23l0 23l0 -12l0 31l1 -48l0 34l0 -20l0 25l0 -29l0 1l0 7l0 10l1 -50l0 28l0 6l0 7l0 -3l0 -11l0 10l0 -12l1 21l0 -16l0 8l0 -7l0 7l0 8l0 49l1 29l0 -5l0 -58l0 -32l0 15l0 -32l0 19l0 20l1 3l0 -24l0 12l0 56l0 -114l0 38l0 14l0 13l1 2l0 -3l0 -17l0 37l0 -20l0 72l0 -90l0 24l1 -11l0 -55l0 4l0 67l0 -39l0 -26l0 58l1 -29l0 13l0 -13l0 19l0 -18l0 -5l0 -2l0 43l1 -26l0 -21l0 2l0 29l0 -71l0 63l0 8l0 -8l1 -10l0 14l0 58l0 -70l0 12l0 1l0 -13l0 2l1 -15l0 5l0 32l0 -32l0 24l0 -38l0 54l1 -20l0 24l0 -47l0 18l0 6l0 14l0 1l0 4l1 -1l0 -19l0 5l0 -32l0 46l0 -9l0 -2l0 -22l1 15l0 12l0 -25l0 1l0 41l0 -51l0 13l0 7l1 -6l0 -44l0 42l0 13l0 2l0 7l0 -43l0 -15l1 27l0 -9l0 -4l0 42l0 -15l0 -11l0 12l1 -11l0 33l0 15l0 -37l0 12l0 -33l0 11l0 -12l1 60l0 -23l0 36l0 -86l0 22l0 25l0 -6l0 -33l1 19l0 -38l0 46l0 21l0 -17l0 -23l0 66l0 -37l1 8l0 -23l0 -11l0 -16l0 60l0 -54l0 26l1 3l0 7l0 25l0 -15l0 24l0 -65l0 33l0 4l1 -27l0 4l0 27l0 -37l0 24l0 -11l0 3l0 -14l1 -1l0 18l0 1l0 -33l0 46l0 9l0 -49l0 43l1 -10l0 -4l0 -54l0 33l0 28l0 0l0 10l1 -26l0 -26l0 30l0 24l0 -56l0 25l0 12l0 -25l1 19l0 3l0 13l0 10l0 -15l0 -73l0 59l0 -2l1 34l0 -78l0 58l0 -11l0 -29l0 32l0 40l0 -52l1 38l0 -22l0 -8l0 -21l0 -4l0 3l0 35l1 -2l0 -15l0 2l0 16l0 -6l0 20l0 -13l0 20l1 -36l0 1l0 -27l0 26l0 3l0 -2l0 -8l0 13l1 24l0 -11l0 -8l0 -17l0 -7l0 -1l0 13l0 -1l1 23l0 -45l0 44l0 -2l0 -16l0 3l0 10l0 -15l1 -8l0 2l0 40l0 -29l0 22l0 -15l0 -27l1 15l0 41l0 -25l0 -37l0 24l0 16l0 -27l0 8l1 1l0 -33l0 -8l0 52l0 -1l0 -11l0 26l0 -22l1 18l0 -5l0 17l0 -55l0 28l0 24l0 -25l0 24l1 -21l0 9l0 -1l0 -23l0 -16l0 29l0 9l1 20l0 -27l0 6l0 6l0 -9l0 7l0 -10l0 6l1 -27l0 17l0 3l0 -37l0 -2l0 38l0 5l0 12l1 -24l0 15l0 -22l0 -6l0 32l0 -24l0 6l0 58l1 -36l0 -19l0 10l0 -2l0 -9l0 16l0 -30l1 6l0 11l0 23l0 -39l0 -4l0 24l0 -11l0 17l1 -1l0 -19l0 19l0 -8l0 -9l0 26l0 -31l0 42l1 -16l0 -33l0 3l0 17l0 1l0 -5l0 12l0 -10l1 -15l0 10l0 24l0 -2l0 15l0 -51l0 4l0 3l1 28l0 -45l0 65l0 -52l0 3l0 32l0 -19l1 24l0 -14l0 7l0 -25l0 -14l0 -11l0 61l0 -35l1 15l0 -11l0 33l0 21l0 -24l0 -46l0 45l0 -39l1 16l0 -13l0 21l0 -28l0 18l0 3l0 -5l0 5l1 20l0 -20l0 -8l0 6l0 11l0 -7l0 15l1 -25l0 15l0 -15l0 -24l0 20l0 6l0 -2l0 24l1 -35l0 14l0 0l0 1l0 -27l0 40l0 -38l0 -20l1 46l0 11l0 21l0 -38l0 7l0 108l0 -25l0 3l1 -97l0 147l0 -197l0 -44l0 247l0 -256l0 123l1 100l0 -96l0 -76l0 92l0 -28l0 78l0 -189l0 229l1 -36l0 -202l0 116l0 7l0 -28l0 25l0 -17l0 -108l1 12l0 114l0 9l0 95l0 -107l0 -9l0 22l0 -39l1 26l0 -15l0 1l0 10l0 14l0 -26l0 25l0 2l1 -10l0 1l0 1l0 -2l0 -13l0 -5l0 -10l1 24l0 14l0 -41l0 31l0 -16l0 14l0 -1l0 24l1 20l0 -36l0 -3l0 7l0 -9l0 0l0 5l0 -11l1 10l0 15l0 -23l0 3l0 15l0 16l0 -31l0 3l1 -22l0 29l0 -21l0 -5l0 28l0 -50l0 7l1 39l0 -22l0 24l0 -16l0 69l0 -50l0 -40l0 11l1 1l0 -44l0 64l0 12l0 50l0 -48l0 7l0 -54l1 33l0 18l0 -24l0 -5l0 6l0 11l0 -10l0 -2l1 -10l0 30l0 -23l0 10l0 -24l0 6l0 50l1 -53l0 10l0 5l0 24l0 -53l0 41l0 -17l0 19l1 -26l0 24l0 -7l0 -21l0 19l0 2l0 -28l0 83l1 -75l0 -13l0 31l0 -22l0 37l0 -18l0 -4l0 27l1 15l0 -58l0 61l0 -50l0 13l0 -1l0 -25l0 23l1 -2l0 99l0 -102l0 29l0 56l0 -14l0 -168l1 22l0 -21l0 27l0 139l0 43l0 -110l0 0l0 -60l1 46l0 122l0 -109l0 -62l0 87l0 -17l0 85l0 -66l1 -26l0 100l0 -122l0 -35l0 49l0 25l0 -13l0 31l1 -1l0 -49l0 58l0 -41l0 11l0 -1l0 -6l1 -7l0 -3l0 2l0 7l0 12l0 -5l0 16l0 -6l1 3l0 -15l0 -31l0 10l0 26l0 15l0 -1l0 -8l1 -54l0 27l0 38l0 -39l0 19l0 -43l0 16l0 1l1 6l0 6l0 15l0 -13l0 -31l0 10l0 20l1 -3l0 4l0 23l0 -18l0 -7l0 -4l0 5l0 -27l1 17l0 26l0 5l0 -8l0 -5l0 -17l0 -26l0 47l1 17l0 -17l0 -14l0 -10l0 19l0 -30l0 16l0 -18l1 12l0 -4l0 2l0 27l0 34l0 -69l0 57l0 -19l1 -29l0 -16l0 10l0 27l0 -20l0 29l0 -7l1 -33l0 47l0 12l0 -20l0 -24l0 27l0 -10l0 -14l1 42l0 -75l0 59l0 -47l0 54l0 -23l0 -10l0 27l1 -40l0 17l0 39l0 -37l0 9l0 7l0 -32l0 44l1 -61l0 30l0 11l0 -15l0 -9l0 26l0 -18l1 4l0 17l0 -16l0 17l0 -19l0 16l0 -22l0 -4l1 -5l0 14l0 26l0 -9l0 16l0 -47l0 44l0 -42l1 8l0 22l0 1l0 -1l0 0l0 -1l0 21l0 -56l1 20l0 0l0 -21l0 28l0 7l0 15l0 -8l1 -21l0 9l0 14l0 -6l0 20l0 -6l0 -35l0 -15l1 33l0 -57l0 34l0 11l0 -3l0 28l0 -27l0 27l1 -25l0 14l0 -26l0 18l0 30l0 -26l0 -23l0 6l1 -5l0 13l0 -27l0 55l0 -18l0 21l0 -13l0 10l1 -8l0 -31l0 20l0 -28l0 19l0 -7l0 -11l1 24l0 4l0 -51l0 43l0 48l0 -96l0 83l0 -32l1 -4l0 9l0 -13l0 8l0 -4l0 1l0 -5l0 1l1 30l0 -27l0 23l0 -38l0 45l0 -15l0 18l0 1l1 -21l0 -2l0 -11l0 -9l0 18l0 9l0 -62l1 47l0 -3l0 16l0 -17l0 6l0 -11l0 12l0 24l1 -2l0 -39l0 4l0 12l0 -12l0 -14l0 41l0 -37l1 -12l0 10l0 29l0 -18l0 14l0 16l0 -5l0 -5l1 -1l0 -7l0 24l0 10l0 -20l0 -32l0 17l1 -6l0 16l0 3l0 -10l0 -6l0 -4l0 -26l0 11l1 11l0 41l0 14l0 -40l0 68l0 -76l0 11l0 -3l1 -7l0 17l0 -21l0 -39l0 47l0 -6l0 -34l0 62l1 -49l0 -32l0 121l0 -56l0 6l0 -28l0 -51l0 137l1 -86l0 -39l0 86l0 -41l0 13l0 12l0 -36l1 93l0 -96l0 29l0 -43l0 9l0 48l0 -27l0 8l1 20l0 -28l0 0l0 36l0 25l0 -35l0 -6l0 7l1 -11l0 -30l0 18l0 20l0 11l0 -14l0 1l0 -9l1 -20l0 41l0 -29l0 23l0 -26l0 3l0 19l1 -7l0 -40l0 27l0 -4l0 12l0 28l0 -33l0 -2l1 12l0 -34l0 10l0 39l0 -21l0 15l0 -16l0 46l1 -53l0 1l0 21l0 -46l0 19l0 8l0 -2l0 6l1 7l0 -3l0 -17l0 27l0 -43l0 6l0 32l1 -15l0 21l0 -16l0 10l0 0l0 -11l0 -6l0 9l1 -28l0 19l0 13l0 -10l0 -4l0 -8l0 25l0 18l1 -39l0 43l0 6l0 -6l0 -55l0 20l0 -10l0 41l1 -21l0 -25l0 31l0 -40l0 17l0 71l0 -84l0 25l1 -7l0 -3l0 30l0 -28l0 -13l0 1l0 -9l1 20l0 27l0 -51l0 59l0 -12l0 22l0 -35l0 -41l1 64l0 -57l0 36l0 7" fill="none" stroke="none" marker-start="url(#mx)" marker-mid="url(#mx)" marker-end="url(#mx)"/>
<path d="M162 953h1261v1h-1261zM162 1403h1261v1h-1261zM162 953h1v451h-1zM1422 953h1v451h-1z" fill="#000"/>
<path d="M160 946h3v8h-3zM160 1402h3v8h-3zM198 946h2v8h-2zM198 1402h2v8h-2zM235 946h2v8h-2zM235 1402h2v8h-2zM272 939h2v15h-2zM272 1402h2v15h-2zM309 946h2v8h-2zM309 1402h2v8h-2zM346 946h2v8h-2zM346 1402h2v8h-2zM383 946h3v8h-3zM383 1402h3v8h-3zM420 946h3v8h-3zM420 1402h3v8h-3zM457 939h3v15h-3zM457 1402h3v15h-3zM494 946h3v8h-3zM494 1402h3v8h-3zM531 946h3v8h-3zM531 1402h3v8h-3zM568 946h3v8h-3zM568 1402h3v8h-3zM605 946h3v8h-3zM605 1402h3v8h-3zM642 939h3v15h-3zM642 1402h3v15h-3zM679 946h3v8h-3zM679 1402h3v8h-3zM717 946h2v8h-2zM717 1402h2v8h-2zM754 946h2v8h-2zM754 1402h2v8h-2zM791 946h2v8h-2zM791 1402h2v8h-2zM828 939h2v15h-2zM828 1402h2v15h-2zM865 946h2v8h-2zM865 1402h2v8h-2zM902 946h2v8h-2zM902 1402h2v8h-2zM939 946h3v8h-3zM939 1402h3v8h-3zM976 946h3v8h-3zM976 1402h3v8h-3zM1013 939h3v15h-3zM1013 1402h3v15h-3zM1050 946h3v8h-3zM1050 1402h3v8h-3zM1087 946h3v8h-3zM1087 1402h3v8h-3zM1124 946h3v8h-3zM1124 1402h3v8h-3zM1161 946h3v8h-3zM1161 1402h3v8h-3zM1198 939h3v15h-3zM1198 1402h3v15h-3zM1235 946h3v8h-3zM1235 1402h3v8h-3zM1273 946h2v8h-2zM1273 1402h2v8h-2zM1310 946h2v8h-2zM1310 1402h2v8h-2zM1347 946h2v8h-2zM1347 1402h2v8h-2zM1384 939h2v15h-2zM1384 1402h2v15h-2zM1421 946h2v8h-2zM1421 1402h2v8h-2z" fill="#000"/>
<path d="M148 1396h15v2h-15zM1421 1396h15v2h-15zM148 1319h15v3h-15zM1421 1319h15v3h-15zM148 1243h15v3h-15zM1421 1243h15v3h-15zM148 1167h15v2h-15zM1421 1167h15v2h-15zM148 1090h15v3h-15zM1421 1090h15v3h-15zM148 1014h15v3h-15zM1421 1014h15v3h-15z" fill="#000"/>
<text x="136.0" y="1026.4" font-size="30.5" text-anchor="end" >0.10</text>
<text x="136.0" y="1102.7" font-size="30.5" text-anchor="end" >0.05</text>
<text x="136.0" y="1179.0" font-size="30.5" text-anchor="end" >0.00</text>
<text x="136.0" y="1255.3" font-size="30.5" text-anchor="end" >−0.05</text>
<text x="136.0" y="1331.6" font-size="30.5" text-anchor="end" >−0.10</text>
<text x="136.0" y="1407.9" font-size="30.5" text-anchor="end" >−0.15</text>
<text x="273.0" y="1450.8" font-size="30.5" text-anchor="middle" >61100</text>
<text x="458.3" y="1450.8" font-size="30.5" text-anchor="middle" >61105</text>
<text x="643.7" y="1450.8" font-size="30.5" text-anchor="middle" >61110</text>
<text x="829.0" y="1450.8" font-size="30.5" text-anchor="middle" >61115</text>
<text x="1014.3" y="1450.8" font-size="30.5" text-anchor="middle" >61120</text>
<text x="1199.7" y="1450.8" font-size="30.5" text-anchor="middle" >61125</text>
<text x="1385.0" y="1450.8" font-size="30.5" text-anchor="middle" >61130</text>
<text x="792.5" y="1481.0" font-size="30" text-anchor="middle" font-weight="bold" >Modified Julian Date</text>
<text transform="translate(51 1178.8) rotate(-90)" font-size="30.2" font-weight="bold" text-anchor="middle">residuals (ns)</text>
<text x="198.3" y="1380.6" font-size="25.07" text-anchor="start" font-weight="bold" style="white-space:pre">Max Smoothing Residual: 0.104_Vdk1.D9  Sigma= 0.016ns09/41_04/09/26Mn______1.036</text>
<path d="M169 1511h541v1h-541zM169 1961h541v1h-541zM169 1511h1v451h-1zM709 1511h1v451h-1z" fill="#000"/>
<path d="M168 1497h2v15h-2zM168 1960h2v15h-2zM235 1504h3v8h-3zM235 1960h3v8h-3zM303 1497h2v15h-2zM303 1960h2v15h-2zM370 1504h3v8h-3zM370 1960h3v8h-3zM438 1497h3v15h-3zM438 1960h3v15h-3zM505 1504h3v8h-3zM505 1960h3v8h-3zM573 1497h3v15h-3zM573 1960h3v15h-3zM641 1504h2v8h-2zM641 1960h2v8h-2zM708 1497h3v15h-3zM708 1960h3v15h-3z" fill="#000"/>
<path d="M162 1960h8v2h-8zM708 1960h8v2h-8zM155 1903h15v3h-15zM708 1903h15v3h-15zM162 1847h8v3h-8zM708 1847h8v3h-8zM155 1791h15v2h-15zM708 1791h15v2h-15zM162 1735h8v2h-8zM708 1735h8v2h-8zM155 1678h15v3h-15zM708 1678h15v3h-15zM162 1622h8v3h-8zM708 1622h8v3h-8zM155 1566h15v2h-15zM708 1566h15v2h-15zM162 1509h8v3h-8zM708 1509h8v3h-8z" fill="#000"/>
<text x="143.0" y="1578.0" font-size="30.5" text-anchor="end" >−13</text>
<text x="143.0" y="1690.6" font-size="30.5" text-anchor="end" >−14</text>
<text x="143.0" y="1803.1" font-size="30.5" text-anchor="end" >−15</text>
<text x="143.0" y="1915.7" font-size="30.5" text-anchor="end" >−16</text>
<text x="169.0" y="2008.3" font-size="30.5" text-anchor="middle" >2</text>
<text x="304.1" y="2008.3" font-size="30.5" text-anchor="middle" >3</text>
<text x="439.2" y="2008.3" font-size="30.5" text-anchor="middle" >4</text>
<text x="574.3" y="2008.3" font-size="30.5" text-anchor="middle" >5</text>
<text x="709.4" y="2008.3" font-size="30.5" text-anchor="middle" >6</text>
<text x="439.3" y="2038.6" font-size="30" font-weight="bold" text-anchor="middle">Averaging time, log(<tspan font-family="'DejaVu Serif', 'Liberation Serif', serif" font-weight="normal" font-size="26.5">τ</tspan>) (s)</text>
<text transform="translate(83 1736) rotate(-90)" font-size="30" font-weight="bold" text-anchor="middle">Modified Allan Deviation (10<tspan font-size="21" dy="-11">-15</tspan><tspan dy="11">)</tspan></text>
<text x="202" y="1545.7" font-size="17.5" font-weight="bold"><tspan font-family="'DejaVu Serif', 'Liberation Serif', serif" font-weight="normal" font-size="16.5">τ</tspan> = 300s</text>
<circle cx="233.4" cy="1612" r="6.4"/>
<text x="233.4" y="1600.4" font-size="19.6" text-anchor="middle" font-weight="bold" fill="#f00" >39.9</text>
<circle cx="273.8" cy="1647.9" r="6.4"/>
<text x="273.8" y="1636.3" font-size="19.6" text-anchor="middle" font-weight="bold" fill="#f00" >19.2</text>
<circle cx="314.8" cy="1668.9" r="6.4"/>
<text x="314.8" y="1657.3" font-size="19.6" text-anchor="middle" font-weight="bold" fill="#f00" >12.4</text>
<circle cx="355.5" cy="1685.5" r="6.4"/>
<text x="355.5" y="1673.9" font-size="19.6" text-anchor="middle" font-weight="bold" fill="#f00" >8.9</text>
<circle cx="396" cy="1706.3" r="6.4"/>
<text x="396.0" y="1694.7" font-size="19.6" text-anchor="middle" font-weight="bold" fill="#f00" >5.8</text>
<circle cx="436.5" cy="1726.6" r="6.4"/>
<text x="436.5" y="1715.0" font-size="19.6" text-anchor="middle" font-weight="bold" fill="#f00" >3.8</text>
<circle cx="477" cy="1759.8" r="6.4"/>
<text x="477.0" y="1748.2" font-size="19.6" text-anchor="middle" font-weight="bold" fill="#f00" >2.0</text>
<circle cx="517.9" cy="1797.9" r="6.4"/>
<text x="517.9" y="1786.3" font-size="19.6" text-anchor="middle" font-weight="bold" fill="#f00" >0.9</text>
<circle cx="558.5" cy="1816.9" r="6.4"/>
<text x="558.5" y="1805.3" font-size="19.6" text-anchor="middle" font-weight="bold" fill="#f00" >0.6</text>
<circle cx="599.1" cy="1821.8" r="6.4"/>
<text x="599.1" y="1810.2" font-size="19.6" text-anchor="middle" font-weight="bold" fill="#f00" >0.5</text>
<circle cx="639.8" cy="1808" r="6.4"/>
<text x="639.8" y="1796.4" font-size="19.6" text-anchor="middle" font-weight="bold" fill="#f00" >0.7</text>
<circle cx="680.4" cy="1794.3" r="6.4"/>
<text x="680.4" y="1782.7" font-size="19.6" text-anchor="middle" font-weight="bold" fill="#f00" >1.0</text>
<clipPath id="c3"><rect x="169" y="1500" width="541" height="461.2"/></clipPath>
<circle cx="338.6" cy="1962" r="5" clip-path="url(#c3)"/>
<text x="338.6" y="1950.0" font-size="20" text-anchor="middle" font-weight="bold" fill="#f00" >h/2</text>
<circle cx="379.2" cy="1962" r="5" clip-path="url(#c3)"/>
<text x="379.2" y="1950.0" font-size="20" text-anchor="middle" font-weight="bold" fill="#f00" >h</text>
<circle cx="443.7" cy="1962" r="5" clip-path="url(#c3)"/>
<text x="443.7" y="1950.0" font-size="20" text-anchor="middle" font-weight="bold" fill="#f00" >d/8</text>
<circle cx="484.3" cy="1962" r="5" clip-path="url(#c3)"/>
<text x="484.3" y="1950.0" font-size="20" text-anchor="middle" font-weight="bold" fill="#f00" >d/4</text>
<circle cx="525.1" cy="1962" r="5" clip-path="url(#c3)"/>
<text x="525.1" y="1950.0" font-size="20" text-anchor="middle" font-weight="bold" fill="#f00" >d/2</text>
<circle cx="565.7" cy="1962" r="5" clip-path="url(#c3)"/>
<text x="565.7" y="1950.0" font-size="20" text-anchor="middle" font-weight="bold" fill="#f00" >day</text>
<circle cx="630.2" cy="1962" r="5" clip-path="url(#c3)"/>
<text x="630.2" y="1950.0" font-size="20" text-anchor="middle" font-weight="bold" fill="#f00" >ddd</text>
<circle cx="679.9" cy="1962" r="5" clip-path="url(#c3)"/>
<text x="679.9" y="1950.0" font-size="20" text-anchor="middle" font-weight="bold" fill="#f00" >wk</text>
<path d="M853 1511h541v1h-541zM853 1961h541v1h-541zM853 1511h1v451h-1zM1393 1511h1v451h-1z" fill="#000"/>
<path d="M884 1497h2v15h-2zM884 1960h2v15h-2zM947 1504h3v8h-3zM947 1960h3v8h-3zM1011 1497h2v15h-2zM1011 1960h2v15h-2zM1074 1504h3v8h-3zM1074 1960h3v8h-3zM1138 1497h2v15h-2zM1138 1960h2v15h-2zM1201 1504h3v8h-3zM1201 1960h3v8h-3zM1265 1497h2v15h-2zM1265 1960h2v15h-2zM1328 1504h3v8h-3zM1328 1960h3v8h-3zM1392 1497h2v15h-2zM1392 1960h2v15h-2z" fill="#000"/>
<path d="M839 1960h15v2h-15zM1392 1960h15v2h-15zM846 1895h8v3h-8zM1392 1895h8v3h-8zM839 1831h15v3h-15zM1392 1831h15v3h-15zM846 1767h8v3h-8zM1392 1767h8v3h-8zM839 1703h15v2h-15zM1392 1703h15v2h-15zM846 1638h8v3h-8zM1392 1638h8v3h-8zM839 1574h15v3h-15zM1392 1574h15v3h-15zM846 1510h8v2h-8zM1392 1510h8v2h-8z" fill="#000"/>
<text x="827.0" y="1586.3" font-size="30.5" text-anchor="end" >−9</text>
<text x="827.0" y="1714.9" font-size="30.5" text-anchor="end" >−10</text>
<text x="827.0" y="1843.5" font-size="30.5" text-anchor="end" >−11</text>
<text x="827.0" y="1972.1" font-size="30.5" text-anchor="end" >−12</text>
<text x="885.0" y="2008.3" font-size="30.5" text-anchor="middle" >2</text>
<text x="1012.0" y="2008.3" font-size="30.5" text-anchor="middle" >3</text>
<text x="1139.0" y="2008.3" font-size="30.5" text-anchor="middle" >4</text>
<text x="1266.0" y="2008.3" font-size="30.5" text-anchor="middle" >5</text>
<text x="1393.0" y="2008.3" font-size="30.5" text-anchor="middle" >6</text>
<text x="1123.3" y="2038.6" font-size="30" font-weight="bold" text-anchor="middle">Averaging time, log(<tspan font-family="'DejaVu Serif', 'Liberation Serif', serif" font-weight="normal" font-size="26.5">τ</tspan>) (s)</text>
<text transform="translate(767 1736.5) rotate(-90)" font-size="30" font-weight="bold" text-anchor="middle">Time deviation (10<tspan font-size="21" dy="-11">-10</tspan><tspan dy="11"> s)</tspan></text>
<circle cx="945.5" cy="1853" r="6.3"/>
<text x="945.5" y="1839.6" font-size="17" text-anchor="middle" font-weight="bold" fill="#f00" >0.1</text>
<circle cx="984" cy="1855" r="6.3"/>
<text x="984.0" y="1841.7" font-size="17" text-anchor="middle" font-weight="bold" fill="#f00" >0.1</text>
<circle cx="1021.9" cy="1840.9" r="6.3"/>
<text x="1021.9" y="1827.4" font-size="17" text-anchor="middle" font-weight="bold" fill="#f00" >0.1</text>
<circle cx="1059.8" cy="1820.6" r="6.3"/>
<text x="1059.8" y="1807.4" font-size="17" text-anchor="middle" font-weight="bold" fill="#f00" >0.1</text>
<circle cx="1098.4" cy="1805.8" r="6.3"/>
<text x="1098.4" y="1792.4" font-size="17" text-anchor="middle" font-weight="bold" fill="#f00" >0.2</text>
<circle cx="1136.5" cy="1790.3" r="6.3"/>
<text x="1136.5" y="1777.6" font-size="17" text-anchor="middle" font-weight="bold" fill="#f00" >0.2</text>
<circle cx="1174.8" cy="1789.2" r="6.3"/>
<text x="1174.8" y="1776.3" font-size="17" text-anchor="middle" font-weight="bold" fill="#f00" >0.2</text>
<circle cx="1212.9" cy="1794.8" r="6.3"/>
<text x="1212.9" y="1781.6" font-size="17" text-anchor="middle" font-weight="bold" fill="#f00" >0.2</text>
<circle cx="1251.3" cy="1777.6" r="6.3"/>
<text x="1251.3" y="1764.5" font-size="17" text-anchor="middle" font-weight="bold" fill="#f00" >0.3</text>
<circle cx="1289.9" cy="1744.9" r="6.3"/>
<text x="1289.9" y="1731.5" font-size="17" text-anchor="middle" font-weight="bold" fill="#f00" >0.5</text>
<circle cx="1327.9" cy="1689.8" r="6.3"/>
<text x="1327.9" y="1676.7" font-size="17" text-anchor="middle" font-weight="bold" fill="#f00" >1.3</text>
<circle cx="1366" cy="1635.6" r="6.3"/>
<text x="1366.0" y="1622.6" font-size="17" text-anchor="middle" font-weight="bold" fill="#f00" >3.4</text>
<clipPath id="c4"><rect x="853" y="1500" width="541" height="461.2"/></clipPath>
<circle cx="1044.4" cy="1959.2" r="6.2" clip-path="url(#c4)"/>
<text x="1044.4" y="1947.8" font-size="20" text-anchor="middle" font-weight="bold" fill="#f00" >h/2</text>
<circle cx="1082.6" cy="1959.2" r="6.2" clip-path="url(#c4)"/>
<text x="1082.6" y="1947.8" font-size="20" text-anchor="middle" font-weight="bold" fill="#f00" >h</text>
<circle cx="1143.2" cy="1959.2" r="6.2" clip-path="url(#c4)"/>
<text x="1143.2" y="1947.8" font-size="20" text-anchor="middle" font-weight="bold" fill="#f00" >d/8</text>
<circle cx="1181.4" cy="1959.2" r="6.2" clip-path="url(#c4)"/>
<text x="1181.4" y="1947.8" font-size="20" text-anchor="middle" font-weight="bold" fill="#f00" >d/4</text>
<circle cx="1219.8" cy="1959.2" r="6.2" clip-path="url(#c4)"/>
<text x="1219.8" y="1947.8" font-size="20" text-anchor="middle" font-weight="bold" fill="#f00" >d/2</text>
<circle cx="1257.9" cy="1959.2" r="6.2" clip-path="url(#c4)"/>
<text x="1257.9" y="1947.8" font-size="20" text-anchor="middle" font-weight="bold" fill="#f00" >day</text>
<circle cx="1318.6" cy="1959.2" r="6.2" clip-path="url(#c4)"/>
<text x="1318.6" y="1947.8" font-size="20" text-anchor="middle" font-weight="bold" fill="#f00" >ddd</text>
<circle cx="1365.3" cy="1959.2" r="6.2" clip-path="url(#c4)"/>
<text x="1365.3" y="1947.8" font-size="20" text-anchor="middle" font-weight="bold" fill="#f00" >wk</text>
</g>
</svg></body></html>
